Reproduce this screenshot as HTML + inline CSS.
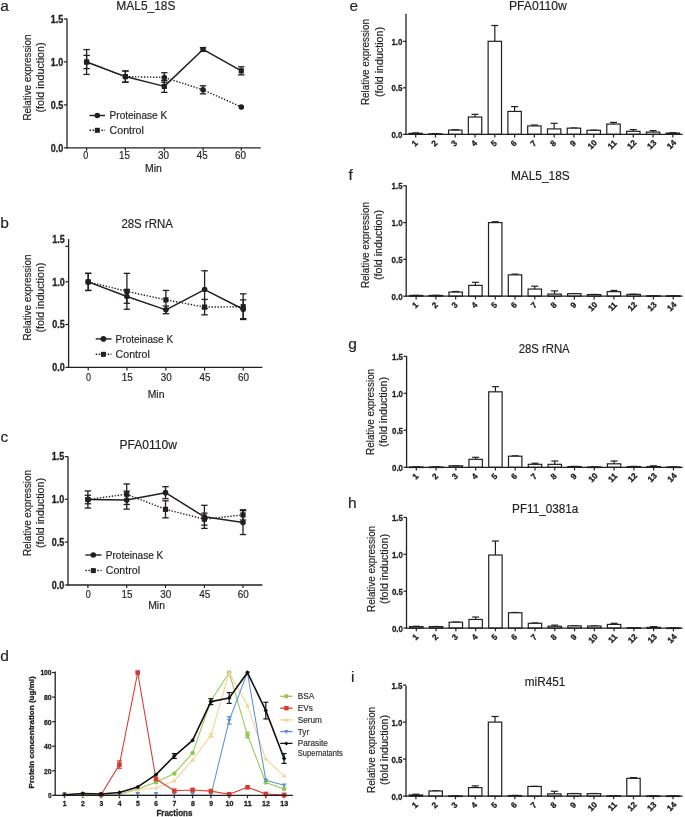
<!DOCTYPE html>
<html><head><meta charset="utf-8"><title>Figure</title>
<style>
html,body{margin:0;padding:0;background:#fff;}
body{width:685px;height:817px;overflow:hidden;}
svg{display:block;font-family:"Liberation Sans",sans-serif;will-change:transform;}
</style></head>
<body>
<svg width="685" height="817" viewBox="0 0 685 817" fill="#231f20">
<rect x="0" y="0" width="685" height="817" fill="#fff"/>
<text x="0.2" y="11" font-size="15.5" stroke="#231f20" stroke-width="0.18">a</text>
<text x="0.2" y="228" font-size="15.5" stroke="#231f20" stroke-width="0.18">b</text>
<text x="0.4" y="441.6" font-size="15.5" stroke="#231f20" stroke-width="0.18">c</text>
<text x="0.2" y="661.2" font-size="15.5" stroke="#231f20" stroke-width="0.18">d</text>
<text x="349.4" y="11" font-size="15.5" stroke="#231f20" stroke-width="0.18">e</text>
<text x="348.6" y="179.7" font-size="15.5" stroke="#231f20" stroke-width="0.18">f</text>
<text x="348.2" y="348.6" font-size="15.5" stroke="#231f20" stroke-width="0.18">g</text>
<text x="348" y="508.3" font-size="15.5" stroke="#231f20" stroke-width="0.18">h</text>
<text x="350.9" y="681.5" font-size="15.5" stroke="#231f20" stroke-width="0.18">i</text>
<text x="116.3" y="10.2" font-size="12.2" textLength="59.2" lengthAdjust="spacingAndGlyphs" stroke="#231f20" stroke-width="0.18">MAL5_18S</text>
<text x="31" y="77.5" font-size="10" text-anchor="middle" textLength="86" lengthAdjust="spacingAndGlyphs" transform="rotate(-90 31 77.5)" stroke="#231f20" stroke-width="0.18">Relative expression</text>
<text x="43.6" y="77.5" font-size="10.6" text-anchor="middle" textLength="70" lengthAdjust="spacingAndGlyphs" transform="rotate(-90 43.6 77.5)" stroke="#231f20" stroke-width="0.18">(fold induction)</text>
<line x1="67" y1="18.6" x2="67" y2="148.4" stroke="#231f20" stroke-width="1.3"/>
<line x1="66.4" y1="147.8" x2="260.8" y2="147.8" stroke="#231f20" stroke-width="1.3"/>
<line x1="63.8" y1="19" x2="67" y2="19" stroke="#231f20" stroke-width="1.2"/>
<text x="63.2" y="22.8" font-size="10" font-weight="bold" text-anchor="end" textLength="12.5" lengthAdjust="spacingAndGlyphs" stroke="#231f20" stroke-width="0.32">1.5</text>
<line x1="63.8" y1="61.9" x2="67" y2="61.9" stroke="#231f20" stroke-width="1.2"/>
<text x="63.2" y="65.7" font-size="10" font-weight="bold" text-anchor="end" textLength="12.5" lengthAdjust="spacingAndGlyphs" stroke="#231f20" stroke-width="0.32">1.0</text>
<line x1="63.8" y1="104.9" x2="67" y2="104.9" stroke="#231f20" stroke-width="1.2"/>
<text x="63.2" y="108.7" font-size="10" font-weight="bold" text-anchor="end" textLength="12.5" lengthAdjust="spacingAndGlyphs" stroke="#231f20" stroke-width="0.32">0.5</text>
<line x1="63.8" y1="147.8" x2="67" y2="147.8" stroke="#231f20" stroke-width="1.2"/>
<text x="63.2" y="151.6" font-size="10" font-weight="bold" text-anchor="end" textLength="12.5" lengthAdjust="spacingAndGlyphs" stroke="#231f20" stroke-width="0.32">0.0</text>
<line x1="86.6" y1="147.8" x2="86.6" y2="150.8" stroke="#231f20" stroke-width="1.2"/>
<text x="85.8" y="159.4" font-size="10.2" text-anchor="middle" textLength="5" lengthAdjust="spacingAndGlyphs" stroke="#231f20" stroke-width="0.18">0</text>
<line x1="125.4" y1="147.8" x2="125.4" y2="150.8" stroke="#231f20" stroke-width="1.2"/>
<text x="124.6" y="159.4" font-size="10.2" text-anchor="middle" textLength="11" lengthAdjust="spacingAndGlyphs" stroke="#231f20" stroke-width="0.18">15</text>
<line x1="164.3" y1="147.8" x2="164.3" y2="150.8" stroke="#231f20" stroke-width="1.2"/>
<text x="163.5" y="159.4" font-size="10.2" text-anchor="middle" textLength="11" lengthAdjust="spacingAndGlyphs" stroke="#231f20" stroke-width="0.18">30</text>
<line x1="203" y1="147.8" x2="203" y2="150.8" stroke="#231f20" stroke-width="1.2"/>
<text x="202.2" y="159.4" font-size="10.2" text-anchor="middle" textLength="11" lengthAdjust="spacingAndGlyphs" stroke="#231f20" stroke-width="0.18">45</text>
<line x1="241.3" y1="147.8" x2="241.3" y2="150.8" stroke="#231f20" stroke-width="1.2"/>
<text x="240.5" y="159.4" font-size="10.2" text-anchor="middle" textLength="11" lengthAdjust="spacingAndGlyphs" stroke="#231f20" stroke-width="0.18">60</text>
<text x="145" y="172.2" font-size="10.2" textLength="16.8" lengthAdjust="spacingAndGlyphs" stroke="#231f20" stroke-width="0.18">Min</text>
<line x1="86.6" y1="55.39" x2="86.6" y2="68.61" stroke="#231f20" stroke-width="1.3"/>
<line x1="83.4" y1="55.39" x2="89.8" y2="55.39" stroke="#231f20" stroke-width="1.3"/>
<line x1="83.4" y1="68.61" x2="89.8" y2="68.61" stroke="#231f20" stroke-width="1.3"/>
<line x1="125.4" y1="71.01" x2="125.4" y2="82.16" stroke="#231f20" stroke-width="1.3"/>
<line x1="122.2" y1="71.01" x2="128.6" y2="71.01" stroke="#231f20" stroke-width="1.3"/>
<line x1="122.2" y1="82.16" x2="128.6" y2="82.16" stroke="#231f20" stroke-width="1.3"/>
<line x1="164.3" y1="72.73" x2="164.3" y2="82.16" stroke="#231f20" stroke-width="1.3"/>
<line x1="161.1" y1="72.73" x2="167.5" y2="72.73" stroke="#231f20" stroke-width="1.3"/>
<line x1="161.1" y1="82.16" x2="167.5" y2="82.16" stroke="#231f20" stroke-width="1.3"/>
<line x1="203" y1="85.77" x2="203" y2="93.83" stroke="#231f20" stroke-width="1.3"/>
<line x1="199.8" y1="85.77" x2="206.2" y2="85.77" stroke="#231f20" stroke-width="1.3"/>
<line x1="199.8" y1="93.83" x2="206.2" y2="93.83" stroke="#231f20" stroke-width="1.3"/>
<line x1="86.6" y1="49.56" x2="86.6" y2="74.44" stroke="#231f20" stroke-width="1.3"/>
<line x1="83.4" y1="49.56" x2="89.8" y2="49.56" stroke="#231f20" stroke-width="1.3"/>
<line x1="83.4" y1="74.44" x2="89.8" y2="74.44" stroke="#231f20" stroke-width="1.3"/>
<line x1="125.4" y1="71.01" x2="125.4" y2="82.16" stroke="#231f20" stroke-width="1.3"/>
<line x1="122.2" y1="71.01" x2="128.6" y2="71.01" stroke="#231f20" stroke-width="1.3"/>
<line x1="122.2" y1="82.16" x2="128.6" y2="82.16" stroke="#231f20" stroke-width="1.3"/>
<line x1="164.3" y1="80.36" x2="164.3" y2="92.37" stroke="#231f20" stroke-width="1.3"/>
<line x1="161.1" y1="80.36" x2="167.5" y2="80.36" stroke="#231f20" stroke-width="1.3"/>
<line x1="161.1" y1="92.37" x2="167.5" y2="92.37" stroke="#231f20" stroke-width="1.3"/>
<line x1="203" y1="47.76" x2="203" y2="51.19" stroke="#231f20" stroke-width="1.3"/>
<line x1="199.8" y1="47.76" x2="206.2" y2="47.76" stroke="#231f20" stroke-width="1.3"/>
<line x1="199.8" y1="51.19" x2="206.2" y2="51.19" stroke="#231f20" stroke-width="1.3"/>
<line x1="241.3" y1="66.8" x2="241.3" y2="74.87" stroke="#231f20" stroke-width="1.3"/>
<line x1="238.1" y1="66.8" x2="244.5" y2="66.8" stroke="#231f20" stroke-width="1.3"/>
<line x1="238.1" y1="74.87" x2="244.5" y2="74.87" stroke="#231f20" stroke-width="1.3"/>
<polyline points="86.6,62 125.4,76.59 164.3,77.44 203,89.8 241.3,106.96" fill="none" stroke="#231f20" stroke-width="1.4" stroke-linejoin="round" stroke-dasharray="1.4 1.6"/>
<polyline points="86.6,62 125.4,76.59 164.3,86.37 203,49.47 241.3,70.84" fill="none" stroke="#231f20" stroke-width="1.5" stroke-linejoin="round"/>
<circle cx="86.6" cy="62" r="2.8" fill="#231f20"/>
<circle cx="125.4" cy="76.59" r="2.8" fill="#231f20"/>
<circle cx="164.3" cy="77.44" r="2.8" fill="#231f20"/>
<circle cx="203" cy="89.8" r="2.8" fill="#231f20"/>
<circle cx="241.3" cy="106.96" r="2.8" fill="#231f20"/>
<rect x="84" y="59.4" width="5.2" height="5.2" fill="#231f20"/>
<rect x="122.8" y="73.99" width="5.2" height="5.2" fill="#231f20"/>
<rect x="161.7" y="83.77" width="5.2" height="5.2" fill="#231f20"/>
<rect x="200.4" y="46.87" width="5.2" height="5.2" fill="#231f20"/>
<rect x="238.7" y="68.24" width="5.2" height="5.2" fill="#231f20"/>
<line x1="89.5" y1="115.5" x2="105.1" y2="115.5" stroke="#231f20" stroke-width="1.4"/>
<circle cx="97.3" cy="115.5" r="2.8" fill="#231f20"/>
<line x1="89.5" y1="130.3" x2="105.1" y2="130.3" stroke="#231f20" stroke-width="1.5" stroke-dasharray="1.5 1.5"/>
<rect x="94.8" y="127.8" width="5" height="5" fill="#231f20"/>
<text x="109.6" y="119.1" font-size="10.2" textLength="57.5" lengthAdjust="spacingAndGlyphs" stroke="#231f20" stroke-width="0.18">Proteinase K</text>
<text x="109.6" y="133.9" font-size="10.6" textLength="34.2" lengthAdjust="spacingAndGlyphs" stroke="#231f20" stroke-width="0.18">Control</text>
<text x="121.4" y="228" font-size="12.2" textLength="51.4" lengthAdjust="spacingAndGlyphs" stroke="#231f20" stroke-width="0.18">28S rRNA</text>
<text x="31" y="297.6" font-size="10" text-anchor="middle" textLength="86" lengthAdjust="spacingAndGlyphs" transform="rotate(-90 31 297.6)" stroke="#231f20" stroke-width="0.18">Relative expression</text>
<text x="43.9" y="297.6" font-size="10.6" text-anchor="middle" textLength="70" lengthAdjust="spacingAndGlyphs" transform="rotate(-90 43.9 297.6)" stroke="#231f20" stroke-width="0.18">(fold induction)</text>
<line x1="68.6" y1="239" x2="68.6" y2="368" stroke="#231f20" stroke-width="1.3"/>
<line x1="68" y1="367.4" x2="262.4" y2="367.4" stroke="#231f20" stroke-width="1.3"/>
<line x1="65.4" y1="246.4" x2="68.6" y2="246.4" stroke="#231f20" stroke-width="1.2"/>
<text x="64.8" y="242.7" font-size="10" font-weight="bold" text-anchor="end" textLength="12.5" lengthAdjust="spacingAndGlyphs" stroke="#231f20" stroke-width="0.32">1.5</text>
<line x1="65.4" y1="281.8" x2="68.6" y2="281.8" stroke="#231f20" stroke-width="1.2"/>
<text x="64.8" y="285.6" font-size="10" font-weight="bold" text-anchor="end" textLength="12.5" lengthAdjust="spacingAndGlyphs" stroke="#231f20" stroke-width="0.32">1.0</text>
<line x1="65.4" y1="324.5" x2="68.6" y2="324.5" stroke="#231f20" stroke-width="1.2"/>
<text x="64.8" y="328.3" font-size="10" font-weight="bold" text-anchor="end" textLength="12.5" lengthAdjust="spacingAndGlyphs" stroke="#231f20" stroke-width="0.32">0.5</text>
<line x1="65.4" y1="367.4" x2="68.6" y2="367.4" stroke="#231f20" stroke-width="1.2"/>
<text x="64.8" y="371.2" font-size="10" font-weight="bold" text-anchor="end" textLength="12.5" lengthAdjust="spacingAndGlyphs" stroke="#231f20" stroke-width="0.32">0.0</text>
<line x1="88.2" y1="367.4" x2="88.2" y2="370.4" stroke="#231f20" stroke-width="1.2"/>
<text x="88.5" y="381.3" font-size="10.2" text-anchor="middle" textLength="5" lengthAdjust="spacingAndGlyphs" stroke="#231f20" stroke-width="0.18">0</text>
<line x1="126.9" y1="367.4" x2="126.9" y2="370.4" stroke="#231f20" stroke-width="1.2"/>
<text x="127.2" y="381.3" font-size="10.2" text-anchor="middle" textLength="11" lengthAdjust="spacingAndGlyphs" stroke="#231f20" stroke-width="0.18">15</text>
<line x1="165.9" y1="367.4" x2="165.9" y2="370.4" stroke="#231f20" stroke-width="1.2"/>
<text x="166.2" y="381.3" font-size="10.2" text-anchor="middle" textLength="11" lengthAdjust="spacingAndGlyphs" stroke="#231f20" stroke-width="0.18">30</text>
<line x1="204.6" y1="367.4" x2="204.6" y2="370.4" stroke="#231f20" stroke-width="1.2"/>
<text x="204.9" y="381.3" font-size="10.2" text-anchor="middle" textLength="11" lengthAdjust="spacingAndGlyphs" stroke="#231f20" stroke-width="0.18">45</text>
<line x1="243.2" y1="367.4" x2="243.2" y2="370.4" stroke="#231f20" stroke-width="1.2"/>
<text x="243.5" y="381.3" font-size="10.2" text-anchor="middle" textLength="11" lengthAdjust="spacingAndGlyphs" stroke="#231f20" stroke-width="0.18">60</text>
<text x="147.7" y="397.6" font-size="10.2" textLength="16.8" lengthAdjust="spacingAndGlyphs" stroke="#231f20" stroke-width="0.18">Min</text>
<line x1="88.2" y1="273.35" x2="88.2" y2="290.45" stroke="#231f20" stroke-width="1.3"/>
<line x1="85" y1="273.35" x2="91.4" y2="273.35" stroke="#231f20" stroke-width="1.3"/>
<line x1="85" y1="290.45" x2="91.4" y2="290.45" stroke="#231f20" stroke-width="1.3"/>
<line x1="126.9" y1="273.35" x2="126.9" y2="309.26" stroke="#231f20" stroke-width="1.3"/>
<line x1="123.7" y1="273.35" x2="130.1" y2="273.35" stroke="#231f20" stroke-width="1.3"/>
<line x1="123.7" y1="309.26" x2="130.1" y2="309.26" stroke="#231f20" stroke-width="1.3"/>
<line x1="165.9" y1="290.45" x2="165.9" y2="309.26" stroke="#231f20" stroke-width="1.3"/>
<line x1="162.7" y1="290.45" x2="169.1" y2="290.45" stroke="#231f20" stroke-width="1.3"/>
<line x1="162.7" y1="309.26" x2="169.1" y2="309.26" stroke="#231f20" stroke-width="1.3"/>
<line x1="204.6" y1="299.43" x2="204.6" y2="314.82" stroke="#231f20" stroke-width="1.3"/>
<line x1="201.4" y1="299.43" x2="207.8" y2="299.43" stroke="#231f20" stroke-width="1.3"/>
<line x1="201.4" y1="314.82" x2="207.8" y2="314.82" stroke="#231f20" stroke-width="1.3"/>
<line x1="243.2" y1="293.87" x2="243.2" y2="319.52" stroke="#231f20" stroke-width="1.3"/>
<line x1="240" y1="293.87" x2="246.4" y2="293.87" stroke="#231f20" stroke-width="1.3"/>
<line x1="240" y1="319.52" x2="246.4" y2="319.52" stroke="#231f20" stroke-width="1.3"/>
<line x1="88.2" y1="273.35" x2="88.2" y2="290.45" stroke="#231f20" stroke-width="1.3"/>
<line x1="85" y1="273.35" x2="91.4" y2="273.35" stroke="#231f20" stroke-width="1.3"/>
<line x1="85" y1="290.45" x2="91.4" y2="290.45" stroke="#231f20" stroke-width="1.3"/>
<line x1="126.9" y1="289.59" x2="126.9" y2="303.27" stroke="#231f20" stroke-width="1.3"/>
<line x1="123.7" y1="289.59" x2="130.1" y2="289.59" stroke="#231f20" stroke-width="1.3"/>
<line x1="123.7" y1="303.27" x2="130.1" y2="303.27" stroke="#231f20" stroke-width="1.3"/>
<line x1="165.9" y1="306.01" x2="165.9" y2="313.71" stroke="#231f20" stroke-width="1.3"/>
<line x1="162.7" y1="306.01" x2="169.1" y2="306.01" stroke="#231f20" stroke-width="1.3"/>
<line x1="162.7" y1="313.71" x2="169.1" y2="313.71" stroke="#231f20" stroke-width="1.3"/>
<line x1="204.6" y1="270.78" x2="204.6" y2="308.4" stroke="#231f20" stroke-width="1.3"/>
<line x1="201.4" y1="270.78" x2="207.8" y2="270.78" stroke="#231f20" stroke-width="1.3"/>
<line x1="201.4" y1="308.4" x2="207.8" y2="308.4" stroke="#231f20" stroke-width="1.3"/>
<line x1="243.2" y1="299.85" x2="243.2" y2="318.66" stroke="#231f20" stroke-width="1.3"/>
<line x1="240" y1="299.85" x2="246.4" y2="299.85" stroke="#231f20" stroke-width="1.3"/>
<line x1="240" y1="318.66" x2="246.4" y2="318.66" stroke="#231f20" stroke-width="1.3"/>
<polyline points="88.2,281.9 126.9,291.3 165.9,299.85 204.6,307.12 243.2,306.69" fill="none" stroke="#231f20" stroke-width="1.4" stroke-linejoin="round" stroke-dasharray="1.4 1.6"/>
<polyline points="88.2,281.9 126.9,296.43 165.9,309.86 204.6,289.59 243.2,309.26" fill="none" stroke="#231f20" stroke-width="1.5" stroke-linejoin="round"/>
<rect x="85.6" y="279.3" width="5.2" height="5.2" fill="#231f20"/>
<rect x="124.3" y="288.7" width="5.2" height="5.2" fill="#231f20"/>
<rect x="163.3" y="297.25" width="5.2" height="5.2" fill="#231f20"/>
<rect x="202" y="304.52" width="5.2" height="5.2" fill="#231f20"/>
<rect x="240.6" y="304.09" width="5.2" height="5.2" fill="#231f20"/>
<circle cx="88.2" cy="281.9" r="2.8" fill="#231f20"/>
<circle cx="126.9" cy="296.43" r="2.8" fill="#231f20"/>
<circle cx="165.9" cy="309.86" r="2.8" fill="#231f20"/>
<circle cx="204.6" cy="289.59" r="2.8" fill="#231f20"/>
<circle cx="243.2" cy="309.26" r="2.8" fill="#231f20"/>
<line x1="95.7" y1="338.9" x2="111.5" y2="338.9" stroke="#231f20" stroke-width="1.4"/>
<circle cx="103.4" cy="338.9" r="2.8" fill="#231f20"/>
<line x1="95.7" y1="354.3" x2="111.5" y2="354.3" stroke="#231f20" stroke-width="1.5" stroke-dasharray="1.5 1.5"/>
<rect x="100.9" y="351.8" width="5" height="5" fill="#231f20"/>
<text x="115.6" y="342.5" font-size="10.2" textLength="57.5" lengthAdjust="spacingAndGlyphs" stroke="#231f20" stroke-width="0.18">Proteinase K</text>
<text x="115.6" y="357.9" font-size="10.6" textLength="34.2" lengthAdjust="spacingAndGlyphs" stroke="#231f20" stroke-width="0.18">Control</text>
<text x="119.5" y="448.7" font-size="12.2" textLength="57.5" lengthAdjust="spacingAndGlyphs" stroke="#231f20" stroke-width="0.18">PFA0110w</text>
<text x="31.2" y="513" font-size="10" text-anchor="middle" textLength="86" lengthAdjust="spacingAndGlyphs" transform="rotate(-90 31.2 513)" stroke="#231f20" stroke-width="0.18">Relative expression</text>
<text x="44" y="513" font-size="10.6" text-anchor="middle" textLength="70" lengthAdjust="spacingAndGlyphs" transform="rotate(-90 44 513)" stroke="#231f20" stroke-width="0.18">(fold induction)</text>
<line x1="68" y1="456.4" x2="68" y2="585.6" stroke="#231f20" stroke-width="1.3"/>
<line x1="67.4" y1="585" x2="262.4" y2="585" stroke="#231f20" stroke-width="1.3"/>
<line x1="64.8" y1="456.6" x2="68" y2="456.6" stroke="#231f20" stroke-width="1.2"/>
<text x="64.2" y="460.4" font-size="10" font-weight="bold" text-anchor="end" textLength="12.5" lengthAdjust="spacingAndGlyphs" stroke="#231f20" stroke-width="0.32">1.5</text>
<line x1="64.8" y1="499.3" x2="68" y2="499.3" stroke="#231f20" stroke-width="1.2"/>
<text x="64.2" y="503.1" font-size="10" font-weight="bold" text-anchor="end" textLength="12.5" lengthAdjust="spacingAndGlyphs" stroke="#231f20" stroke-width="0.32">1.0</text>
<line x1="64.8" y1="542.1" x2="68" y2="542.1" stroke="#231f20" stroke-width="1.2"/>
<text x="64.2" y="545.9" font-size="10" font-weight="bold" text-anchor="end" textLength="12.5" lengthAdjust="spacingAndGlyphs" stroke="#231f20" stroke-width="0.32">0.5</text>
<line x1="64.8" y1="585" x2="68" y2="585" stroke="#231f20" stroke-width="1.2"/>
<text x="64.2" y="588.8" font-size="10" font-weight="bold" text-anchor="end" textLength="12.5" lengthAdjust="spacingAndGlyphs" stroke="#231f20" stroke-width="0.32">0.0</text>
<line x1="87.9" y1="585" x2="87.9" y2="588" stroke="#231f20" stroke-width="1.2"/>
<text x="88.2" y="598.3" font-size="10.2" text-anchor="middle" textLength="5" lengthAdjust="spacingAndGlyphs" stroke="#231f20" stroke-width="0.18">0</text>
<line x1="126.7" y1="585" x2="126.7" y2="588" stroke="#231f20" stroke-width="1.2"/>
<text x="127" y="598.3" font-size="10.2" text-anchor="middle" textLength="11" lengthAdjust="spacingAndGlyphs" stroke="#231f20" stroke-width="0.18">15</text>
<line x1="165.5" y1="585" x2="165.5" y2="588" stroke="#231f20" stroke-width="1.2"/>
<text x="165.8" y="598.3" font-size="10.2" text-anchor="middle" textLength="11" lengthAdjust="spacingAndGlyphs" stroke="#231f20" stroke-width="0.18">30</text>
<line x1="204.4" y1="585" x2="204.4" y2="588" stroke="#231f20" stroke-width="1.2"/>
<text x="204.7" y="598.3" font-size="10.2" text-anchor="middle" textLength="11" lengthAdjust="spacingAndGlyphs" stroke="#231f20" stroke-width="0.18">45</text>
<line x1="243" y1="585" x2="243" y2="588" stroke="#231f20" stroke-width="1.2"/>
<text x="243.3" y="598.3" font-size="10.2" text-anchor="middle" textLength="11" lengthAdjust="spacingAndGlyphs" stroke="#231f20" stroke-width="0.18">60</text>
<text x="148.2" y="608.5" font-size="10.2" textLength="16.8" lengthAdjust="spacingAndGlyphs" stroke="#231f20" stroke-width="0.18">Min</text>
<line x1="87.9" y1="495.23" x2="87.9" y2="503.77" stroke="#231f20" stroke-width="1.3"/>
<line x1="84.7" y1="495.23" x2="91.1" y2="495.23" stroke="#231f20" stroke-width="1.3"/>
<line x1="84.7" y1="503.77" x2="91.1" y2="503.77" stroke="#231f20" stroke-width="1.3"/>
<line x1="126.7" y1="483.94" x2="126.7" y2="504.46" stroke="#231f20" stroke-width="1.3"/>
<line x1="123.5" y1="483.94" x2="129.9" y2="483.94" stroke="#231f20" stroke-width="1.3"/>
<line x1="123.5" y1="504.46" x2="129.9" y2="504.46" stroke="#231f20" stroke-width="1.3"/>
<line x1="165.5" y1="500.78" x2="165.5" y2="517.88" stroke="#231f20" stroke-width="1.3"/>
<line x1="162.3" y1="500.78" x2="168.7" y2="500.78" stroke="#231f20" stroke-width="1.3"/>
<line x1="162.3" y1="517.88" x2="168.7" y2="517.88" stroke="#231f20" stroke-width="1.3"/>
<line x1="204.4" y1="513.18" x2="204.4" y2="525.15" stroke="#231f20" stroke-width="1.3"/>
<line x1="201.2" y1="513.18" x2="207.6" y2="513.18" stroke="#231f20" stroke-width="1.3"/>
<line x1="201.2" y1="525.15" x2="207.6" y2="525.15" stroke="#231f20" stroke-width="1.3"/>
<line x1="243" y1="509.76" x2="243" y2="520.02" stroke="#231f20" stroke-width="1.3"/>
<line x1="239.8" y1="509.76" x2="246.2" y2="509.76" stroke="#231f20" stroke-width="1.3"/>
<line x1="239.8" y1="520.02" x2="246.2" y2="520.02" stroke="#231f20" stroke-width="1.3"/>
<line x1="87.9" y1="490.95" x2="87.9" y2="508.05" stroke="#231f20" stroke-width="1.3"/>
<line x1="84.7" y1="490.95" x2="91.1" y2="490.95" stroke="#231f20" stroke-width="1.3"/>
<line x1="84.7" y1="508.05" x2="91.1" y2="508.05" stroke="#231f20" stroke-width="1.3"/>
<line x1="126.7" y1="491.12" x2="126.7" y2="509.08" stroke="#231f20" stroke-width="1.3"/>
<line x1="123.5" y1="491.12" x2="129.9" y2="491.12" stroke="#231f20" stroke-width="1.3"/>
<line x1="123.5" y1="509.08" x2="129.9" y2="509.08" stroke="#231f20" stroke-width="1.3"/>
<line x1="165.5" y1="486.67" x2="165.5" y2="498.64" stroke="#231f20" stroke-width="1.3"/>
<line x1="162.3" y1="486.67" x2="168.7" y2="486.67" stroke="#231f20" stroke-width="1.3"/>
<line x1="162.3" y1="498.64" x2="168.7" y2="498.64" stroke="#231f20" stroke-width="1.3"/>
<line x1="204.4" y1="505.31" x2="204.4" y2="528.4" stroke="#231f20" stroke-width="1.3"/>
<line x1="201.2" y1="505.31" x2="207.6" y2="505.31" stroke="#231f20" stroke-width="1.3"/>
<line x1="201.2" y1="528.4" x2="207.6" y2="528.4" stroke="#231f20" stroke-width="1.3"/>
<line x1="243" y1="510.62" x2="243" y2="534.55" stroke="#231f20" stroke-width="1.3"/>
<line x1="239.8" y1="510.62" x2="246.2" y2="510.62" stroke="#231f20" stroke-width="1.3"/>
<line x1="239.8" y1="534.55" x2="246.2" y2="534.55" stroke="#231f20" stroke-width="1.3"/>
<polyline points="87.9,499.5 126.7,494.2 165.5,509.33 204.4,519.16 243,514.89" fill="none" stroke="#231f20" stroke-width="1.4" stroke-linejoin="round" stroke-dasharray="1.4 1.6"/>
<polyline points="87.9,499.5 126.7,500.1 165.5,492.66 204.4,516.86 243,522.59" fill="none" stroke="#231f20" stroke-width="1.5" stroke-linejoin="round"/>
<rect x="85.3" y="496.9" width="5.2" height="5.2" fill="#231f20"/>
<rect x="124.1" y="491.6" width="5.2" height="5.2" fill="#231f20"/>
<rect x="162.9" y="506.73" width="5.2" height="5.2" fill="#231f20"/>
<rect x="201.8" y="516.56" width="5.2" height="5.2" fill="#231f20"/>
<rect x="240.4" y="512.29" width="5.2" height="5.2" fill="#231f20"/>
<circle cx="87.9" cy="499.5" r="2.8" fill="#231f20"/>
<circle cx="126.7" cy="500.1" r="2.8" fill="#231f20"/>
<circle cx="165.5" cy="492.66" r="2.8" fill="#231f20"/>
<circle cx="204.4" cy="516.86" r="2.8" fill="#231f20"/>
<circle cx="243" cy="522.59" r="2.8" fill="#231f20"/>
<line x1="85.4" y1="555" x2="101.5" y2="555" stroke="#231f20" stroke-width="1.4"/>
<circle cx="93.3" cy="555" r="2.8" fill="#231f20"/>
<line x1="85.4" y1="570.6" x2="101.5" y2="570.6" stroke="#231f20" stroke-width="1.5" stroke-dasharray="1.5 1.5"/>
<rect x="90.8" y="568.1" width="5" height="5" fill="#231f20"/>
<text x="105.8" y="558.6" font-size="10.2" textLength="57.5" lengthAdjust="spacingAndGlyphs" stroke="#231f20" stroke-width="0.18">Proteinase K</text>
<text x="105.8" y="574.2" font-size="10.6" textLength="34.2" lengthAdjust="spacingAndGlyphs" stroke="#231f20" stroke-width="0.18">Control</text>
<text x="508.9" y="9.7" font-size="12.2" textLength="58" lengthAdjust="spacingAndGlyphs" stroke="#231f20" stroke-width="0.18">PFA0110w</text>
<text x="369.2" y="62" font-size="10" text-anchor="middle" textLength="86" lengthAdjust="spacingAndGlyphs" transform="rotate(-90 369.2 62)" stroke="#231f20" stroke-width="0.18">Relative expression</text>
<text x="382.8" y="62" font-size="10.6" text-anchor="middle" textLength="70" lengthAdjust="spacingAndGlyphs" transform="rotate(-90 382.8 62)" stroke="#231f20" stroke-width="0.18">(fold induction)</text>
<line x1="415.7" y1="132.91" x2="415.7" y2="133.37" stroke="#231f20" stroke-width="1.2"/>
<line x1="412.2" y1="132.91" x2="419.2" y2="132.91" stroke="#231f20" stroke-width="1.2"/>
<rect x="409" y="133.37" width="13.4" height="0.93" fill="#fff" stroke="#231f20" stroke-width="1.2"/>
<line x1="435.48" y1="133.56" x2="435.48" y2="133.84" stroke="#231f20" stroke-width="1.2"/>
<line x1="431.98" y1="133.56" x2="438.98" y2="133.56" stroke="#231f20" stroke-width="1.2"/>
<rect x="428.78" y="133.84" width="13.4" height="0.6" fill="#fff" stroke="#231f20" stroke-width="1.2"/>
<line x1="455.26" y1="129.65" x2="455.26" y2="130.12" stroke="#231f20" stroke-width="1.2"/>
<line x1="451.76" y1="129.65" x2="458.76" y2="129.65" stroke="#231f20" stroke-width="1.2"/>
<rect x="448.56" y="130.12" width="13.4" height="4.19" fill="#fff" stroke="#231f20" stroke-width="1.2"/>
<line x1="475.04" y1="114.31" x2="475.04" y2="117" stroke="#231f20" stroke-width="1.2"/>
<line x1="471.54" y1="114.31" x2="478.54" y2="114.31" stroke="#231f20" stroke-width="1.2"/>
<rect x="468.34" y="117" width="13.4" height="17.3" fill="#fff" stroke="#231f20" stroke-width="1.2"/>
<line x1="494.82" y1="25.49" x2="494.82" y2="41.3" stroke="#231f20" stroke-width="1.2"/>
<line x1="491.32" y1="25.49" x2="498.32" y2="25.49" stroke="#231f20" stroke-width="1.2"/>
<rect x="488.12" y="41.3" width="13.4" height="93" fill="#fff" stroke="#231f20" stroke-width="1.2"/>
<line x1="514.6" y1="106.59" x2="514.6" y2="111.42" stroke="#231f20" stroke-width="1.2"/>
<line x1="511.1" y1="106.59" x2="518.1" y2="106.59" stroke="#231f20" stroke-width="1.2"/>
<rect x="507.9" y="111.42" width="13.4" height="22.88" fill="#fff" stroke="#231f20" stroke-width="1.2"/>
<line x1="534.38" y1="125" x2="534.38" y2="125.93" stroke="#231f20" stroke-width="1.2"/>
<line x1="530.88" y1="125" x2="537.88" y2="125" stroke="#231f20" stroke-width="1.2"/>
<rect x="527.68" y="125.93" width="13.4" height="8.37" fill="#fff" stroke="#231f20" stroke-width="1.2"/>
<line x1="554.16" y1="123.33" x2="554.16" y2="128.91" stroke="#231f20" stroke-width="1.2"/>
<line x1="550.66" y1="123.33" x2="557.66" y2="123.33" stroke="#231f20" stroke-width="1.2"/>
<rect x="547.46" y="128.91" width="13.4" height="5.39" fill="#fff" stroke="#231f20" stroke-width="1.2"/>
<line x1="573.94" y1="127.98" x2="573.94" y2="128.16" stroke="#231f20" stroke-width="1.2"/>
<line x1="570.44" y1="127.98" x2="577.44" y2="127.98" stroke="#231f20" stroke-width="1.2"/>
<rect x="567.24" y="128.16" width="13.4" height="6.14" fill="#fff" stroke="#231f20" stroke-width="1.2"/>
<line x1="593.72" y1="130.12" x2="593.72" y2="130.3" stroke="#231f20" stroke-width="1.2"/>
<line x1="590.22" y1="130.12" x2="597.22" y2="130.12" stroke="#231f20" stroke-width="1.2"/>
<rect x="587.02" y="130.3" width="13.4" height="4" fill="#fff" stroke="#231f20" stroke-width="1.2"/>
<line x1="613.5" y1="122.4" x2="613.5" y2="124.07" stroke="#231f20" stroke-width="1.2"/>
<line x1="610" y1="122.4" x2="617" y2="122.4" stroke="#231f20" stroke-width="1.2"/>
<rect x="606.8" y="124.07" width="13.4" height="10.23" fill="#fff" stroke="#231f20" stroke-width="1.2"/>
<line x1="633.28" y1="129.56" x2="633.28" y2="131.32" stroke="#231f20" stroke-width="1.2"/>
<line x1="629.78" y1="129.56" x2="636.78" y2="129.56" stroke="#231f20" stroke-width="1.2"/>
<rect x="626.58" y="131.32" width="13.4" height="2.98" fill="#fff" stroke="#231f20" stroke-width="1.2"/>
<line x1="653.06" y1="130.58" x2="653.06" y2="132.07" stroke="#231f20" stroke-width="1.2"/>
<line x1="649.56" y1="130.58" x2="656.56" y2="130.58" stroke="#231f20" stroke-width="1.2"/>
<rect x="646.36" y="132.07" width="13.4" height="2.23" fill="#fff" stroke="#231f20" stroke-width="1.2"/>
<line x1="672.84" y1="132.72" x2="672.84" y2="133.09" stroke="#231f20" stroke-width="1.2"/>
<line x1="669.34" y1="132.72" x2="676.34" y2="132.72" stroke="#231f20" stroke-width="1.2"/>
<rect x="666.14" y="133.09" width="13.4" height="1.21" fill="#fff" stroke="#231f20" stroke-width="1.2"/>
<line x1="406" y1="13.7" x2="406" y2="134.9" stroke="#231f20" stroke-width="1.3"/>
<line x1="405.4" y1="134.3" x2="682.6" y2="134.3" stroke="#231f20" stroke-width="1.3"/>
<line x1="403" y1="134.3" x2="406" y2="134.3" stroke="#231f20" stroke-width="1.2"/>
<text x="402.4" y="137.8" font-size="9.3" font-weight="bold" text-anchor="end" textLength="11" lengthAdjust="spacingAndGlyphs" stroke="#231f20" stroke-width="0.32">0.0</text>
<line x1="403" y1="87.8" x2="406" y2="87.8" stroke="#231f20" stroke-width="1.2"/>
<text x="402.4" y="91.3" font-size="9.3" font-weight="bold" text-anchor="end" textLength="11" lengthAdjust="spacingAndGlyphs" stroke="#231f20" stroke-width="0.32">0.5</text>
<line x1="403" y1="41.3" x2="406" y2="41.3" stroke="#231f20" stroke-width="1.2"/>
<text x="402.4" y="44.8" font-size="9.3" font-weight="bold" text-anchor="end" textLength="11" lengthAdjust="spacingAndGlyphs" stroke="#231f20" stroke-width="0.32">1.0</text>
<line x1="415.7" y1="134.3" x2="415.7" y2="137.5" stroke="#231f20" stroke-width="1.2"/>
<text x="416.7" y="145.3" font-size="8.3" font-weight="bold" text-anchor="middle" transform="rotate(-45 416.7 145.3)" stroke="#231f20" stroke-width="0.32">1</text>
<line x1="435.48" y1="134.3" x2="435.48" y2="137.5" stroke="#231f20" stroke-width="1.2"/>
<text x="436.48" y="145.3" font-size="8.3" font-weight="bold" text-anchor="middle" transform="rotate(-45 436.48 145.3)" stroke="#231f20" stroke-width="0.32">2</text>
<line x1="455.26" y1="134.3" x2="455.26" y2="137.5" stroke="#231f20" stroke-width="1.2"/>
<text x="456.26" y="145.3" font-size="8.3" font-weight="bold" text-anchor="middle" transform="rotate(-45 456.26 145.3)" stroke="#231f20" stroke-width="0.32">3</text>
<line x1="475.04" y1="134.3" x2="475.04" y2="137.5" stroke="#231f20" stroke-width="1.2"/>
<text x="476.04" y="145.3" font-size="8.3" font-weight="bold" text-anchor="middle" transform="rotate(-45 476.04 145.3)" stroke="#231f20" stroke-width="0.32">4</text>
<line x1="494.82" y1="134.3" x2="494.82" y2="137.5" stroke="#231f20" stroke-width="1.2"/>
<text x="495.82" y="145.3" font-size="8.3" font-weight="bold" text-anchor="middle" transform="rotate(-45 495.82 145.3)" stroke="#231f20" stroke-width="0.32">5</text>
<line x1="514.6" y1="134.3" x2="514.6" y2="137.5" stroke="#231f20" stroke-width="1.2"/>
<text x="515.6" y="145.3" font-size="8.3" font-weight="bold" text-anchor="middle" transform="rotate(-45 515.6 145.3)" stroke="#231f20" stroke-width="0.32">6</text>
<line x1="534.38" y1="134.3" x2="534.38" y2="137.5" stroke="#231f20" stroke-width="1.2"/>
<text x="535.38" y="145.3" font-size="8.3" font-weight="bold" text-anchor="middle" transform="rotate(-45 535.38 145.3)" stroke="#231f20" stroke-width="0.32">7</text>
<line x1="554.16" y1="134.3" x2="554.16" y2="137.5" stroke="#231f20" stroke-width="1.2"/>
<text x="555.16" y="145.3" font-size="8.3" font-weight="bold" text-anchor="middle" transform="rotate(-45 555.16 145.3)" stroke="#231f20" stroke-width="0.32">8</text>
<line x1="573.94" y1="134.3" x2="573.94" y2="137.5" stroke="#231f20" stroke-width="1.2"/>
<text x="574.94" y="145.3" font-size="8.3" font-weight="bold" text-anchor="middle" transform="rotate(-45 574.94 145.3)" stroke="#231f20" stroke-width="0.32">9</text>
<line x1="593.72" y1="134.3" x2="593.72" y2="137.5" stroke="#231f20" stroke-width="1.2"/>
<text x="594.32" y="146.6" font-size="8.3" font-weight="bold" text-anchor="middle" transform="rotate(-45 594.32 146.6)" stroke="#231f20" stroke-width="0.32">10</text>
<line x1="613.5" y1="134.3" x2="613.5" y2="137.5" stroke="#231f20" stroke-width="1.2"/>
<text x="614.1" y="146.6" font-size="8.3" font-weight="bold" text-anchor="middle" transform="rotate(-45 614.1 146.6)" stroke="#231f20" stroke-width="0.32">11</text>
<line x1="633.28" y1="134.3" x2="633.28" y2="137.5" stroke="#231f20" stroke-width="1.2"/>
<text x="633.88" y="146.6" font-size="8.3" font-weight="bold" text-anchor="middle" transform="rotate(-45 633.88 146.6)" stroke="#231f20" stroke-width="0.32">12</text>
<line x1="653.06" y1="134.3" x2="653.06" y2="137.5" stroke="#231f20" stroke-width="1.2"/>
<text x="653.66" y="146.6" font-size="8.3" font-weight="bold" text-anchor="middle" transform="rotate(-45 653.66 146.6)" stroke="#231f20" stroke-width="0.32">13</text>
<line x1="672.84" y1="134.3" x2="672.84" y2="137.5" stroke="#231f20" stroke-width="1.2"/>
<text x="673.44" y="146.6" font-size="8.3" font-weight="bold" text-anchor="middle" transform="rotate(-45 673.44 146.6)" stroke="#231f20" stroke-width="0.32">14</text>
<text x="510.9" y="179.8" font-size="12.2" textLength="58.8" lengthAdjust="spacingAndGlyphs" stroke="#231f20" stroke-width="0.18">MAL5_18S</text>
<text x="368.8" y="245" font-size="10" text-anchor="middle" textLength="86" lengthAdjust="spacingAndGlyphs" transform="rotate(-90 368.8 245)" stroke="#231f20" stroke-width="0.18">Relative expression</text>
<text x="382.3" y="245" font-size="10.6" text-anchor="middle" textLength="70" lengthAdjust="spacingAndGlyphs" transform="rotate(-90 382.3 245)" stroke="#231f20" stroke-width="0.18">(fold induction)</text>
<line x1="416.1" y1="295.32" x2="416.1" y2="295.46" stroke="#231f20" stroke-width="1.2"/>
<line x1="412.6" y1="295.32" x2="419.6" y2="295.32" stroke="#231f20" stroke-width="1.2"/>
<rect x="409.4" y="295.46" width="13.4" height="0.74" fill="#fff" stroke="#231f20" stroke-width="1.2"/>
<line x1="435.88" y1="295.32" x2="435.88" y2="295.46" stroke="#231f20" stroke-width="1.2"/>
<line x1="432.38" y1="295.32" x2="439.38" y2="295.32" stroke="#231f20" stroke-width="1.2"/>
<rect x="429.18" y="295.46" width="13.4" height="0.74" fill="#fff" stroke="#231f20" stroke-width="1.2"/>
<line x1="455.66" y1="291.49" x2="455.66" y2="292.08" stroke="#231f20" stroke-width="1.2"/>
<line x1="452.16" y1="291.49" x2="459.16" y2="291.49" stroke="#231f20" stroke-width="1.2"/>
<rect x="448.96" y="292.08" width="13.4" height="4.12" fill="#fff" stroke="#231f20" stroke-width="1.2"/>
<line x1="475.44" y1="282.29" x2="475.44" y2="285.38" stroke="#231f20" stroke-width="1.2"/>
<line x1="471.94" y1="282.29" x2="478.94" y2="282.29" stroke="#231f20" stroke-width="1.2"/>
<rect x="468.74" y="285.38" width="13.4" height="10.82" fill="#fff" stroke="#231f20" stroke-width="1.2"/>
<line x1="495.22" y1="221.72" x2="495.22" y2="222.6" stroke="#231f20" stroke-width="1.2"/>
<line x1="491.72" y1="221.72" x2="498.72" y2="221.72" stroke="#231f20" stroke-width="1.2"/>
<rect x="488.52" y="222.6" width="13.4" height="73.6" fill="#fff" stroke="#231f20" stroke-width="1.2"/>
<line x1="515" y1="274.12" x2="515" y2="274.86" stroke="#231f20" stroke-width="1.2"/>
<line x1="511.5" y1="274.12" x2="518.5" y2="274.12" stroke="#231f20" stroke-width="1.2"/>
<rect x="508.3" y="274.86" width="13.4" height="21.34" fill="#fff" stroke="#231f20" stroke-width="1.2"/>
<line x1="534.78" y1="286.19" x2="534.78" y2="289.06" stroke="#231f20" stroke-width="1.2"/>
<line x1="531.28" y1="286.19" x2="538.28" y2="286.19" stroke="#231f20" stroke-width="1.2"/>
<rect x="528.08" y="289.06" width="13.4" height="7.14" fill="#fff" stroke="#231f20" stroke-width="1.2"/>
<line x1="554.56" y1="290.9" x2="554.56" y2="294.07" stroke="#231f20" stroke-width="1.2"/>
<line x1="551.06" y1="290.9" x2="558.06" y2="290.9" stroke="#231f20" stroke-width="1.2"/>
<rect x="547.86" y="294.07" width="13.4" height="2.13" fill="#fff" stroke="#231f20" stroke-width="1.2"/>
<line x1="574.34" y1="293.55" x2="574.34" y2="293.7" stroke="#231f20" stroke-width="1.2"/>
<line x1="570.84" y1="293.55" x2="577.84" y2="293.55" stroke="#231f20" stroke-width="1.2"/>
<rect x="567.64" y="293.7" width="13.4" height="2.5" fill="#fff" stroke="#231f20" stroke-width="1.2"/>
<line x1="594.12" y1="294.43" x2="594.12" y2="294.58" stroke="#231f20" stroke-width="1.2"/>
<line x1="590.62" y1="294.43" x2="597.62" y2="294.43" stroke="#231f20" stroke-width="1.2"/>
<rect x="587.42" y="294.58" width="13.4" height="1.62" fill="#fff" stroke="#231f20" stroke-width="1.2"/>
<line x1="613.9" y1="290.46" x2="613.9" y2="291.64" stroke="#231f20" stroke-width="1.2"/>
<line x1="610.4" y1="290.46" x2="617.4" y2="290.46" stroke="#231f20" stroke-width="1.2"/>
<rect x="607.2" y="291.64" width="13.4" height="4.56" fill="#fff" stroke="#231f20" stroke-width="1.2"/>
<line x1="633.68" y1="294.21" x2="633.68" y2="294.36" stroke="#231f20" stroke-width="1.2"/>
<line x1="630.18" y1="294.21" x2="637.18" y2="294.21" stroke="#231f20" stroke-width="1.2"/>
<rect x="626.98" y="294.36" width="13.4" height="1.84" fill="#fff" stroke="#231f20" stroke-width="1.2"/>
<line x1="653.46" y1="295.61" x2="653.46" y2="295.76" stroke="#231f20" stroke-width="1.2"/>
<line x1="649.96" y1="295.61" x2="656.96" y2="295.61" stroke="#231f20" stroke-width="1.2"/>
<rect x="646.76" y="295.76" width="13.4" height="0.6" fill="#fff" stroke="#231f20" stroke-width="1.2"/>
<line x1="673.24" y1="295.61" x2="673.24" y2="295.76" stroke="#231f20" stroke-width="1.2"/>
<line x1="669.74" y1="295.61" x2="676.74" y2="295.61" stroke="#231f20" stroke-width="1.2"/>
<rect x="666.54" y="295.76" width="13.4" height="0.6" fill="#fff" stroke="#231f20" stroke-width="1.2"/>
<line x1="406.2" y1="185.4" x2="406.2" y2="296.8" stroke="#231f20" stroke-width="1.3"/>
<line x1="405.6" y1="296.2" x2="682.6" y2="296.2" stroke="#231f20" stroke-width="1.3"/>
<line x1="403.2" y1="296.2" x2="406.2" y2="296.2" stroke="#231f20" stroke-width="1.2"/>
<text x="402.6" y="299.7" font-size="9.3" font-weight="bold" text-anchor="end" textLength="11" lengthAdjust="spacingAndGlyphs" stroke="#231f20" stroke-width="0.32">0.0</text>
<line x1="403.2" y1="259.4" x2="406.2" y2="259.4" stroke="#231f20" stroke-width="1.2"/>
<text x="402.6" y="262.9" font-size="9.3" font-weight="bold" text-anchor="end" textLength="11" lengthAdjust="spacingAndGlyphs" stroke="#231f20" stroke-width="0.32">0.5</text>
<line x1="403.2" y1="222.6" x2="406.2" y2="222.6" stroke="#231f20" stroke-width="1.2"/>
<text x="402.6" y="226.1" font-size="9.3" font-weight="bold" text-anchor="end" textLength="11" lengthAdjust="spacingAndGlyphs" stroke="#231f20" stroke-width="0.32">1.0</text>
<line x1="403.2" y1="185.8" x2="406.2" y2="185.8" stroke="#231f20" stroke-width="1.2"/>
<text x="402.6" y="189.3" font-size="9.3" font-weight="bold" text-anchor="end" textLength="11" lengthAdjust="spacingAndGlyphs" stroke="#231f20" stroke-width="0.32">1.5</text>
<line x1="416.1" y1="296.2" x2="416.1" y2="299.4" stroke="#231f20" stroke-width="1.2"/>
<text x="417.1" y="307.2" font-size="8.3" font-weight="bold" text-anchor="middle" transform="rotate(-45 417.1 307.2)" stroke="#231f20" stroke-width="0.32">1</text>
<line x1="435.88" y1="296.2" x2="435.88" y2="299.4" stroke="#231f20" stroke-width="1.2"/>
<text x="436.88" y="307.2" font-size="8.3" font-weight="bold" text-anchor="middle" transform="rotate(-45 436.88 307.2)" stroke="#231f20" stroke-width="0.32">2</text>
<line x1="455.66" y1="296.2" x2="455.66" y2="299.4" stroke="#231f20" stroke-width="1.2"/>
<text x="456.66" y="307.2" font-size="8.3" font-weight="bold" text-anchor="middle" transform="rotate(-45 456.66 307.2)" stroke="#231f20" stroke-width="0.32">3</text>
<line x1="475.44" y1="296.2" x2="475.44" y2="299.4" stroke="#231f20" stroke-width="1.2"/>
<text x="476.44" y="307.2" font-size="8.3" font-weight="bold" text-anchor="middle" transform="rotate(-45 476.44 307.2)" stroke="#231f20" stroke-width="0.32">4</text>
<line x1="495.22" y1="296.2" x2="495.22" y2="299.4" stroke="#231f20" stroke-width="1.2"/>
<text x="496.22" y="307.2" font-size="8.3" font-weight="bold" text-anchor="middle" transform="rotate(-45 496.22 307.2)" stroke="#231f20" stroke-width="0.32">5</text>
<line x1="515" y1="296.2" x2="515" y2="299.4" stroke="#231f20" stroke-width="1.2"/>
<text x="516" y="307.2" font-size="8.3" font-weight="bold" text-anchor="middle" transform="rotate(-45 516 307.2)" stroke="#231f20" stroke-width="0.32">6</text>
<line x1="534.78" y1="296.2" x2="534.78" y2="299.4" stroke="#231f20" stroke-width="1.2"/>
<text x="535.78" y="307.2" font-size="8.3" font-weight="bold" text-anchor="middle" transform="rotate(-45 535.78 307.2)" stroke="#231f20" stroke-width="0.32">7</text>
<line x1="554.56" y1="296.2" x2="554.56" y2="299.4" stroke="#231f20" stroke-width="1.2"/>
<text x="555.56" y="307.2" font-size="8.3" font-weight="bold" text-anchor="middle" transform="rotate(-45 555.56 307.2)" stroke="#231f20" stroke-width="0.32">8</text>
<line x1="574.34" y1="296.2" x2="574.34" y2="299.4" stroke="#231f20" stroke-width="1.2"/>
<text x="575.34" y="307.2" font-size="8.3" font-weight="bold" text-anchor="middle" transform="rotate(-45 575.34 307.2)" stroke="#231f20" stroke-width="0.32">9</text>
<line x1="594.12" y1="296.2" x2="594.12" y2="299.4" stroke="#231f20" stroke-width="1.2"/>
<text x="594.72" y="308.5" font-size="8.3" font-weight="bold" text-anchor="middle" transform="rotate(-45 594.72 308.5)" stroke="#231f20" stroke-width="0.32">10</text>
<line x1="613.9" y1="296.2" x2="613.9" y2="299.4" stroke="#231f20" stroke-width="1.2"/>
<text x="614.5" y="308.5" font-size="8.3" font-weight="bold" text-anchor="middle" transform="rotate(-45 614.5 308.5)" stroke="#231f20" stroke-width="0.32">11</text>
<line x1="633.68" y1="296.2" x2="633.68" y2="299.4" stroke="#231f20" stroke-width="1.2"/>
<text x="634.28" y="308.5" font-size="8.3" font-weight="bold" text-anchor="middle" transform="rotate(-45 634.28 308.5)" stroke="#231f20" stroke-width="0.32">12</text>
<line x1="653.46" y1="296.2" x2="653.46" y2="299.4" stroke="#231f20" stroke-width="1.2"/>
<text x="654.06" y="308.5" font-size="8.3" font-weight="bold" text-anchor="middle" transform="rotate(-45 654.06 308.5)" stroke="#231f20" stroke-width="0.32">13</text>
<line x1="673.24" y1="296.2" x2="673.24" y2="299.4" stroke="#231f20" stroke-width="1.2"/>
<text x="673.84" y="308.5" font-size="8.3" font-weight="bold" text-anchor="middle" transform="rotate(-45 673.84 308.5)" stroke="#231f20" stroke-width="0.32">14</text>
<text x="518.7" y="352.5" font-size="12.2" textLength="51" lengthAdjust="spacingAndGlyphs" stroke="#231f20" stroke-width="0.18">28S rRNA</text>
<text x="374" y="411.9" font-size="10" text-anchor="middle" textLength="86" lengthAdjust="spacingAndGlyphs" transform="rotate(-90 374 411.9)" stroke="#231f20" stroke-width="0.18">Relative expression</text>
<text x="386.7" y="411.9" font-size="10.6" text-anchor="middle" textLength="70" lengthAdjust="spacingAndGlyphs" transform="rotate(-90 386.7 411.9)" stroke="#231f20" stroke-width="0.18">(fold induction)</text>
<line x1="416.3" y1="466.78" x2="416.3" y2="466.93" stroke="#231f20" stroke-width="1.2"/>
<line x1="412.8" y1="466.78" x2="419.8" y2="466.78" stroke="#231f20" stroke-width="1.2"/>
<rect x="409.6" y="466.93" width="13.4" height="0.6" fill="#fff" stroke="#231f20" stroke-width="1.2"/>
<line x1="436.08" y1="466.78" x2="436.08" y2="466.93" stroke="#231f20" stroke-width="1.2"/>
<line x1="432.58" y1="466.78" x2="439.58" y2="466.78" stroke="#231f20" stroke-width="1.2"/>
<rect x="429.38" y="466.93" width="13.4" height="0.6" fill="#fff" stroke="#231f20" stroke-width="1.2"/>
<line x1="455.86" y1="465.67" x2="455.86" y2="465.82" stroke="#231f20" stroke-width="1.2"/>
<line x1="452.36" y1="465.67" x2="459.36" y2="465.67" stroke="#231f20" stroke-width="1.2"/>
<rect x="449.16" y="465.82" width="13.4" height="1.48" fill="#fff" stroke="#231f20" stroke-width="1.2"/>
<line x1="475.64" y1="457.31" x2="475.64" y2="459.31" stroke="#231f20" stroke-width="1.2"/>
<line x1="472.14" y1="457.31" x2="479.14" y2="457.31" stroke="#231f20" stroke-width="1.2"/>
<rect x="468.94" y="459.31" width="13.4" height="7.99" fill="#fff" stroke="#231f20" stroke-width="1.2"/>
<line x1="495.42" y1="386.64" x2="495.42" y2="391.82" stroke="#231f20" stroke-width="1.2"/>
<line x1="491.92" y1="386.64" x2="498.92" y2="386.64" stroke="#231f20" stroke-width="1.2"/>
<rect x="488.72" y="391.82" width="13.4" height="75.48" fill="#fff" stroke="#231f20" stroke-width="1.2"/>
<line x1="515.2" y1="455.83" x2="515.2" y2="456.2" stroke="#231f20" stroke-width="1.2"/>
<line x1="511.7" y1="455.83" x2="518.7" y2="455.83" stroke="#231f20" stroke-width="1.2"/>
<rect x="508.5" y="456.2" width="13.4" height="11.1" fill="#fff" stroke="#231f20" stroke-width="1.2"/>
<line x1="534.98" y1="463.23" x2="534.98" y2="464.34" stroke="#231f20" stroke-width="1.2"/>
<line x1="531.48" y1="463.23" x2="538.48" y2="463.23" stroke="#231f20" stroke-width="1.2"/>
<rect x="528.28" y="464.34" width="13.4" height="2.96" fill="#fff" stroke="#231f20" stroke-width="1.2"/>
<line x1="554.76" y1="461.01" x2="554.76" y2="464.34" stroke="#231f20" stroke-width="1.2"/>
<line x1="551.26" y1="461.01" x2="558.26" y2="461.01" stroke="#231f20" stroke-width="1.2"/>
<rect x="548.06" y="464.34" width="13.4" height="2.96" fill="#fff" stroke="#231f20" stroke-width="1.2"/>
<line x1="574.54" y1="466.41" x2="574.54" y2="466.56" stroke="#231f20" stroke-width="1.2"/>
<line x1="571.04" y1="466.41" x2="578.04" y2="466.41" stroke="#231f20" stroke-width="1.2"/>
<rect x="567.84" y="466.56" width="13.4" height="0.74" fill="#fff" stroke="#231f20" stroke-width="1.2"/>
<line x1="594.32" y1="466.78" x2="594.32" y2="466.93" stroke="#231f20" stroke-width="1.2"/>
<line x1="590.82" y1="466.78" x2="597.82" y2="466.78" stroke="#231f20" stroke-width="1.2"/>
<rect x="587.62" y="466.93" width="13.4" height="0.6" fill="#fff" stroke="#231f20" stroke-width="1.2"/>
<line x1="614.1" y1="461.01" x2="614.1" y2="463.82" stroke="#231f20" stroke-width="1.2"/>
<line x1="610.6" y1="461.01" x2="617.6" y2="461.01" stroke="#231f20" stroke-width="1.2"/>
<rect x="607.4" y="463.82" width="13.4" height="3.48" fill="#fff" stroke="#231f20" stroke-width="1.2"/>
<line x1="633.88" y1="466.41" x2="633.88" y2="466.56" stroke="#231f20" stroke-width="1.2"/>
<line x1="630.38" y1="466.41" x2="637.38" y2="466.41" stroke="#231f20" stroke-width="1.2"/>
<rect x="627.18" y="466.56" width="13.4" height="0.74" fill="#fff" stroke="#231f20" stroke-width="1.2"/>
<line x1="653.66" y1="465.82" x2="653.66" y2="466.56" stroke="#231f20" stroke-width="1.2"/>
<line x1="650.16" y1="465.82" x2="657.16" y2="465.82" stroke="#231f20" stroke-width="1.2"/>
<rect x="646.96" y="466.56" width="13.4" height="0.74" fill="#fff" stroke="#231f20" stroke-width="1.2"/>
<line x1="673.44" y1="466.78" x2="673.44" y2="466.93" stroke="#231f20" stroke-width="1.2"/>
<line x1="669.94" y1="466.78" x2="676.94" y2="466.78" stroke="#231f20" stroke-width="1.2"/>
<rect x="666.74" y="466.93" width="13.4" height="0.6" fill="#fff" stroke="#231f20" stroke-width="1.2"/>
<line x1="406.6" y1="356.2" x2="406.6" y2="467.9" stroke="#231f20" stroke-width="1.3"/>
<line x1="406" y1="467.3" x2="682.6" y2="467.3" stroke="#231f20" stroke-width="1.3"/>
<line x1="403.6" y1="467.3" x2="406.6" y2="467.3" stroke="#231f20" stroke-width="1.2"/>
<text x="403" y="470.8" font-size="9.3" font-weight="bold" text-anchor="end" textLength="11" lengthAdjust="spacingAndGlyphs" stroke="#231f20" stroke-width="0.32">0.0</text>
<line x1="403.6" y1="430.3" x2="406.6" y2="430.3" stroke="#231f20" stroke-width="1.2"/>
<text x="403" y="433.8" font-size="9.3" font-weight="bold" text-anchor="end" textLength="11" lengthAdjust="spacingAndGlyphs" stroke="#231f20" stroke-width="0.32">0.5</text>
<line x1="403.6" y1="393.3" x2="406.6" y2="393.3" stroke="#231f20" stroke-width="1.2"/>
<text x="403" y="396.8" font-size="9.3" font-weight="bold" text-anchor="end" textLength="11" lengthAdjust="spacingAndGlyphs" stroke="#231f20" stroke-width="0.32">1.0</text>
<line x1="403.6" y1="356.3" x2="406.6" y2="356.3" stroke="#231f20" stroke-width="1.2"/>
<text x="403" y="359.8" font-size="9.3" font-weight="bold" text-anchor="end" textLength="11" lengthAdjust="spacingAndGlyphs" stroke="#231f20" stroke-width="0.32">1.5</text>
<line x1="416.3" y1="467.3" x2="416.3" y2="470.5" stroke="#231f20" stroke-width="1.2"/>
<text x="417.3" y="478.3" font-size="8.3" font-weight="bold" text-anchor="middle" transform="rotate(-45 417.3 478.3)" stroke="#231f20" stroke-width="0.32">1</text>
<line x1="436.08" y1="467.3" x2="436.08" y2="470.5" stroke="#231f20" stroke-width="1.2"/>
<text x="437.08" y="478.3" font-size="8.3" font-weight="bold" text-anchor="middle" transform="rotate(-45 437.08 478.3)" stroke="#231f20" stroke-width="0.32">2</text>
<line x1="455.86" y1="467.3" x2="455.86" y2="470.5" stroke="#231f20" stroke-width="1.2"/>
<text x="456.86" y="478.3" font-size="8.3" font-weight="bold" text-anchor="middle" transform="rotate(-45 456.86 478.3)" stroke="#231f20" stroke-width="0.32">3</text>
<line x1="475.64" y1="467.3" x2="475.64" y2="470.5" stroke="#231f20" stroke-width="1.2"/>
<text x="476.64" y="478.3" font-size="8.3" font-weight="bold" text-anchor="middle" transform="rotate(-45 476.64 478.3)" stroke="#231f20" stroke-width="0.32">4</text>
<line x1="495.42" y1="467.3" x2="495.42" y2="470.5" stroke="#231f20" stroke-width="1.2"/>
<text x="496.42" y="478.3" font-size="8.3" font-weight="bold" text-anchor="middle" transform="rotate(-45 496.42 478.3)" stroke="#231f20" stroke-width="0.32">5</text>
<line x1="515.2" y1="467.3" x2="515.2" y2="470.5" stroke="#231f20" stroke-width="1.2"/>
<text x="516.2" y="478.3" font-size="8.3" font-weight="bold" text-anchor="middle" transform="rotate(-45 516.2 478.3)" stroke="#231f20" stroke-width="0.32">6</text>
<line x1="534.98" y1="467.3" x2="534.98" y2="470.5" stroke="#231f20" stroke-width="1.2"/>
<text x="535.98" y="478.3" font-size="8.3" font-weight="bold" text-anchor="middle" transform="rotate(-45 535.98 478.3)" stroke="#231f20" stroke-width="0.32">7</text>
<line x1="554.76" y1="467.3" x2="554.76" y2="470.5" stroke="#231f20" stroke-width="1.2"/>
<text x="555.76" y="478.3" font-size="8.3" font-weight="bold" text-anchor="middle" transform="rotate(-45 555.76 478.3)" stroke="#231f20" stroke-width="0.32">8</text>
<line x1="574.54" y1="467.3" x2="574.54" y2="470.5" stroke="#231f20" stroke-width="1.2"/>
<text x="575.54" y="478.3" font-size="8.3" font-weight="bold" text-anchor="middle" transform="rotate(-45 575.54 478.3)" stroke="#231f20" stroke-width="0.32">9</text>
<line x1="594.32" y1="467.3" x2="594.32" y2="470.5" stroke="#231f20" stroke-width="1.2"/>
<text x="594.92" y="479.6" font-size="8.3" font-weight="bold" text-anchor="middle" transform="rotate(-45 594.92 479.6)" stroke="#231f20" stroke-width="0.32">10</text>
<line x1="614.1" y1="467.3" x2="614.1" y2="470.5" stroke="#231f20" stroke-width="1.2"/>
<text x="614.7" y="479.6" font-size="8.3" font-weight="bold" text-anchor="middle" transform="rotate(-45 614.7 479.6)" stroke="#231f20" stroke-width="0.32">11</text>
<line x1="633.88" y1="467.3" x2="633.88" y2="470.5" stroke="#231f20" stroke-width="1.2"/>
<text x="634.48" y="479.6" font-size="8.3" font-weight="bold" text-anchor="middle" transform="rotate(-45 634.48 479.6)" stroke="#231f20" stroke-width="0.32">12</text>
<line x1="653.66" y1="467.3" x2="653.66" y2="470.5" stroke="#231f20" stroke-width="1.2"/>
<text x="654.26" y="479.6" font-size="8.3" font-weight="bold" text-anchor="middle" transform="rotate(-45 654.26 479.6)" stroke="#231f20" stroke-width="0.32">13</text>
<line x1="673.44" y1="467.3" x2="673.44" y2="470.5" stroke="#231f20" stroke-width="1.2"/>
<text x="674.04" y="479.6" font-size="8.3" font-weight="bold" text-anchor="middle" transform="rotate(-45 674.04 479.6)" stroke="#231f20" stroke-width="0.32">14</text>
<text x="512.1" y="512.8" font-size="12.2" textLength="66.3" lengthAdjust="spacingAndGlyphs" stroke="#231f20" stroke-width="0.18">PF11_0381a</text>
<text x="375.4" y="568.9" font-size="10" text-anchor="middle" textLength="86" lengthAdjust="spacingAndGlyphs" transform="rotate(-90 375.4 568.9)" stroke="#231f20" stroke-width="0.18">Relative expression</text>
<text x="388.3" y="568.9" font-size="10.6" text-anchor="middle" textLength="70" lengthAdjust="spacingAndGlyphs" transform="rotate(-90 388.3 568.9)" stroke="#231f20" stroke-width="0.18">(fold induction)</text>
<line x1="416.3" y1="626.25" x2="416.3" y2="626.62" stroke="#231f20" stroke-width="1.2"/>
<line x1="412.8" y1="626.25" x2="419.8" y2="626.25" stroke="#231f20" stroke-width="1.2"/>
<rect x="409.6" y="626.62" width="13.4" height="1.48" fill="#fff" stroke="#231f20" stroke-width="1.2"/>
<line x1="436.08" y1="626.48" x2="436.08" y2="626.62" stroke="#231f20" stroke-width="1.2"/>
<line x1="432.58" y1="626.48" x2="439.58" y2="626.48" stroke="#231f20" stroke-width="1.2"/>
<rect x="429.38" y="626.62" width="13.4" height="1.48" fill="#fff" stroke="#231f20" stroke-width="1.2"/>
<line x1="455.86" y1="622.05" x2="455.86" y2="622.2" stroke="#231f20" stroke-width="1.2"/>
<line x1="452.36" y1="622.05" x2="459.36" y2="622.05" stroke="#231f20" stroke-width="1.2"/>
<rect x="449.16" y="622.2" width="13.4" height="5.9" fill="#fff" stroke="#231f20" stroke-width="1.2"/>
<line x1="475.64" y1="617.03" x2="475.64" y2="619.47" stroke="#231f20" stroke-width="1.2"/>
<line x1="472.14" y1="617.03" x2="479.14" y2="617.03" stroke="#231f20" stroke-width="1.2"/>
<rect x="468.94" y="619.47" width="13.4" height="8.63" fill="#fff" stroke="#231f20" stroke-width="1.2"/>
<line x1="495.42" y1="541.02" x2="495.42" y2="555.04" stroke="#231f20" stroke-width="1.2"/>
<line x1="491.92" y1="541.02" x2="498.92" y2="541.02" stroke="#231f20" stroke-width="1.2"/>
<rect x="488.72" y="555.04" width="13.4" height="73.06" fill="#fff" stroke="#231f20" stroke-width="1.2"/>
<line x1="515.2" y1="612.45" x2="515.2" y2="612.75" stroke="#231f20" stroke-width="1.2"/>
<line x1="511.7" y1="612.45" x2="518.7" y2="612.45" stroke="#231f20" stroke-width="1.2"/>
<rect x="508.5" y="612.75" width="13.4" height="15.35" fill="#fff" stroke="#231f20" stroke-width="1.2"/>
<line x1="534.98" y1="622.93" x2="534.98" y2="623.3" stroke="#231f20" stroke-width="1.2"/>
<line x1="531.48" y1="622.93" x2="538.48" y2="622.93" stroke="#231f20" stroke-width="1.2"/>
<rect x="528.28" y="623.3" width="13.4" height="4.8" fill="#fff" stroke="#231f20" stroke-width="1.2"/>
<line x1="554.76" y1="625.15" x2="554.76" y2="626.25" stroke="#231f20" stroke-width="1.2"/>
<line x1="551.26" y1="625.15" x2="558.26" y2="625.15" stroke="#231f20" stroke-width="1.2"/>
<rect x="548.06" y="626.25" width="13.4" height="1.85" fill="#fff" stroke="#231f20" stroke-width="1.2"/>
<line x1="574.54" y1="625.74" x2="574.54" y2="625.89" stroke="#231f20" stroke-width="1.2"/>
<line x1="571.04" y1="625.74" x2="578.04" y2="625.74" stroke="#231f20" stroke-width="1.2"/>
<rect x="567.84" y="625.89" width="13.4" height="2.21" fill="#fff" stroke="#231f20" stroke-width="1.2"/>
<line x1="594.32" y1="625.89" x2="594.32" y2="626.03" stroke="#231f20" stroke-width="1.2"/>
<line x1="590.82" y1="625.89" x2="597.82" y2="625.89" stroke="#231f20" stroke-width="1.2"/>
<rect x="587.62" y="626.03" width="13.4" height="2.07" fill="#fff" stroke="#231f20" stroke-width="1.2"/>
<line x1="614.1" y1="623.3" x2="614.1" y2="624.41" stroke="#231f20" stroke-width="1.2"/>
<line x1="610.6" y1="623.3" x2="617.6" y2="623.3" stroke="#231f20" stroke-width="1.2"/>
<rect x="607.4" y="624.41" width="13.4" height="3.69" fill="#fff" stroke="#231f20" stroke-width="1.2"/>
<line x1="633.88" y1="627.58" x2="633.88" y2="627.73" stroke="#231f20" stroke-width="1.2"/>
<line x1="630.38" y1="627.58" x2="637.38" y2="627.58" stroke="#231f20" stroke-width="1.2"/>
<rect x="627.18" y="627.73" width="13.4" height="0.6" fill="#fff" stroke="#231f20" stroke-width="1.2"/>
<line x1="653.66" y1="626.62" x2="653.66" y2="627.36" stroke="#231f20" stroke-width="1.2"/>
<line x1="650.16" y1="626.62" x2="657.16" y2="626.62" stroke="#231f20" stroke-width="1.2"/>
<rect x="646.96" y="627.36" width="13.4" height="0.74" fill="#fff" stroke="#231f20" stroke-width="1.2"/>
<line x1="673.44" y1="627.73" x2="673.44" y2="627.88" stroke="#231f20" stroke-width="1.2"/>
<line x1="669.94" y1="627.73" x2="676.94" y2="627.73" stroke="#231f20" stroke-width="1.2"/>
<rect x="666.74" y="627.88" width="13.4" height="0.6" fill="#fff" stroke="#231f20" stroke-width="1.2"/>
<line x1="406.5" y1="517.4" x2="406.5" y2="628.7" stroke="#231f20" stroke-width="1.3"/>
<line x1="405.9" y1="628.1" x2="682.6" y2="628.1" stroke="#231f20" stroke-width="1.3"/>
<line x1="403.5" y1="628.1" x2="406.5" y2="628.1" stroke="#231f20" stroke-width="1.2"/>
<text x="402.9" y="631.6" font-size="9.3" font-weight="bold" text-anchor="end" textLength="11" lengthAdjust="spacingAndGlyphs" stroke="#231f20" stroke-width="0.32">0.0</text>
<line x1="403.5" y1="591.2" x2="406.5" y2="591.2" stroke="#231f20" stroke-width="1.2"/>
<text x="402.9" y="594.7" font-size="9.3" font-weight="bold" text-anchor="end" textLength="11" lengthAdjust="spacingAndGlyphs" stroke="#231f20" stroke-width="0.32">0.5</text>
<line x1="403.5" y1="554.3" x2="406.5" y2="554.3" stroke="#231f20" stroke-width="1.2"/>
<text x="402.9" y="557.8" font-size="9.3" font-weight="bold" text-anchor="end" textLength="11" lengthAdjust="spacingAndGlyphs" stroke="#231f20" stroke-width="0.32">1.0</text>
<line x1="403.5" y1="517.4" x2="406.5" y2="517.4" stroke="#231f20" stroke-width="1.2"/>
<text x="402.9" y="520.9" font-size="9.3" font-weight="bold" text-anchor="end" textLength="11" lengthAdjust="spacingAndGlyphs" stroke="#231f20" stroke-width="0.32">1.5</text>
<line x1="416.3" y1="628.1" x2="416.3" y2="631.3" stroke="#231f20" stroke-width="1.2"/>
<text x="417.3" y="639.1" font-size="8.3" font-weight="bold" text-anchor="middle" transform="rotate(-45 417.3 639.1)" stroke="#231f20" stroke-width="0.32">1</text>
<line x1="436.08" y1="628.1" x2="436.08" y2="631.3" stroke="#231f20" stroke-width="1.2"/>
<text x="437.08" y="639.1" font-size="8.3" font-weight="bold" text-anchor="middle" transform="rotate(-45 437.08 639.1)" stroke="#231f20" stroke-width="0.32">2</text>
<line x1="455.86" y1="628.1" x2="455.86" y2="631.3" stroke="#231f20" stroke-width="1.2"/>
<text x="456.86" y="639.1" font-size="8.3" font-weight="bold" text-anchor="middle" transform="rotate(-45 456.86 639.1)" stroke="#231f20" stroke-width="0.32">3</text>
<line x1="475.64" y1="628.1" x2="475.64" y2="631.3" stroke="#231f20" stroke-width="1.2"/>
<text x="476.64" y="639.1" font-size="8.3" font-weight="bold" text-anchor="middle" transform="rotate(-45 476.64 639.1)" stroke="#231f20" stroke-width="0.32">4</text>
<line x1="495.42" y1="628.1" x2="495.42" y2="631.3" stroke="#231f20" stroke-width="1.2"/>
<text x="496.42" y="639.1" font-size="8.3" font-weight="bold" text-anchor="middle" transform="rotate(-45 496.42 639.1)" stroke="#231f20" stroke-width="0.32">5</text>
<line x1="515.2" y1="628.1" x2="515.2" y2="631.3" stroke="#231f20" stroke-width="1.2"/>
<text x="516.2" y="639.1" font-size="8.3" font-weight="bold" text-anchor="middle" transform="rotate(-45 516.2 639.1)" stroke="#231f20" stroke-width="0.32">6</text>
<line x1="534.98" y1="628.1" x2="534.98" y2="631.3" stroke="#231f20" stroke-width="1.2"/>
<text x="535.98" y="639.1" font-size="8.3" font-weight="bold" text-anchor="middle" transform="rotate(-45 535.98 639.1)" stroke="#231f20" stroke-width="0.32">7</text>
<line x1="554.76" y1="628.1" x2="554.76" y2="631.3" stroke="#231f20" stroke-width="1.2"/>
<text x="555.76" y="639.1" font-size="8.3" font-weight="bold" text-anchor="middle" transform="rotate(-45 555.76 639.1)" stroke="#231f20" stroke-width="0.32">8</text>
<line x1="574.54" y1="628.1" x2="574.54" y2="631.3" stroke="#231f20" stroke-width="1.2"/>
<text x="575.54" y="639.1" font-size="8.3" font-weight="bold" text-anchor="middle" transform="rotate(-45 575.54 639.1)" stroke="#231f20" stroke-width="0.32">9</text>
<line x1="594.32" y1="628.1" x2="594.32" y2="631.3" stroke="#231f20" stroke-width="1.2"/>
<text x="594.92" y="640.4" font-size="8.3" font-weight="bold" text-anchor="middle" transform="rotate(-45 594.92 640.4)" stroke="#231f20" stroke-width="0.32">10</text>
<line x1="614.1" y1="628.1" x2="614.1" y2="631.3" stroke="#231f20" stroke-width="1.2"/>
<text x="614.7" y="640.4" font-size="8.3" font-weight="bold" text-anchor="middle" transform="rotate(-45 614.7 640.4)" stroke="#231f20" stroke-width="0.32">11</text>
<line x1="633.88" y1="628.1" x2="633.88" y2="631.3" stroke="#231f20" stroke-width="1.2"/>
<text x="634.48" y="640.4" font-size="8.3" font-weight="bold" text-anchor="middle" transform="rotate(-45 634.48 640.4)" stroke="#231f20" stroke-width="0.32">12</text>
<line x1="653.66" y1="628.1" x2="653.66" y2="631.3" stroke="#231f20" stroke-width="1.2"/>
<text x="654.26" y="640.4" font-size="8.3" font-weight="bold" text-anchor="middle" transform="rotate(-45 654.26 640.4)" stroke="#231f20" stroke-width="0.32">13</text>
<line x1="673.44" y1="628.1" x2="673.44" y2="631.3" stroke="#231f20" stroke-width="1.2"/>
<text x="674.04" y="640.4" font-size="8.3" font-weight="bold" text-anchor="middle" transform="rotate(-45 674.04 640.4)" stroke="#231f20" stroke-width="0.32">14</text>
<text x="524.8" y="685.8" font-size="12.2" textLength="40.5" lengthAdjust="spacingAndGlyphs" stroke="#231f20" stroke-width="0.18">miR451</text>
<text x="375.4" y="749.9" font-size="10" text-anchor="middle" textLength="86" lengthAdjust="spacingAndGlyphs" transform="rotate(-90 375.4 749.9)" stroke="#231f20" stroke-width="0.18">Relative expression</text>
<text x="388.3" y="749.9" font-size="10.6" text-anchor="middle" textLength="70" lengthAdjust="spacingAndGlyphs" transform="rotate(-90 388.3 749.9)" stroke="#231f20" stroke-width="0.18">(fold induction)</text>
<line x1="415.9" y1="794.25" x2="415.9" y2="794.99" stroke="#231f20" stroke-width="1.2"/>
<line x1="412.4" y1="794.25" x2="419.4" y2="794.25" stroke="#231f20" stroke-width="1.2"/>
<rect x="409.2" y="794.99" width="13.4" height="1.11" fill="#fff" stroke="#231f20" stroke-width="1.2"/>
<line x1="435.68" y1="790.77" x2="435.68" y2="790.99" stroke="#231f20" stroke-width="1.2"/>
<line x1="432.18" y1="790.77" x2="439.18" y2="790.77" stroke="#231f20" stroke-width="1.2"/>
<rect x="428.98" y="790.99" width="13.4" height="5.11" fill="#fff" stroke="#231f20" stroke-width="1.2"/>
<line x1="455.46" y1="795.73" x2="455.46" y2="795.88" stroke="#231f20" stroke-width="1.2"/>
<line x1="451.96" y1="795.73" x2="458.96" y2="795.73" stroke="#231f20" stroke-width="1.2"/>
<rect x="448.76" y="795.88" width="13.4" height="0.6" fill="#fff" stroke="#231f20" stroke-width="1.2"/>
<line x1="475.24" y1="785.89" x2="475.24" y2="787.59" stroke="#231f20" stroke-width="1.2"/>
<line x1="471.74" y1="785.89" x2="478.74" y2="785.89" stroke="#231f20" stroke-width="1.2"/>
<rect x="468.54" y="787.59" width="13.4" height="8.51" fill="#fff" stroke="#231f20" stroke-width="1.2"/>
<line x1="495.02" y1="716.48" x2="495.02" y2="722.1" stroke="#231f20" stroke-width="1.2"/>
<line x1="491.52" y1="716.48" x2="498.52" y2="716.48" stroke="#231f20" stroke-width="1.2"/>
<rect x="488.32" y="722.1" width="13.4" height="74" fill="#fff" stroke="#231f20" stroke-width="1.2"/>
<line x1="514.8" y1="795.36" x2="514.8" y2="795.58" stroke="#231f20" stroke-width="1.2"/>
<line x1="511.3" y1="795.36" x2="518.3" y2="795.36" stroke="#231f20" stroke-width="1.2"/>
<rect x="508.1" y="795.58" width="13.4" height="0.6" fill="#fff" stroke="#231f20" stroke-width="1.2"/>
<line x1="534.58" y1="786.33" x2="534.58" y2="786.48" stroke="#231f20" stroke-width="1.2"/>
<line x1="531.08" y1="786.33" x2="538.08" y2="786.33" stroke="#231f20" stroke-width="1.2"/>
<rect x="527.88" y="786.48" width="13.4" height="9.62" fill="#fff" stroke="#231f20" stroke-width="1.2"/>
<line x1="554.36" y1="791.29" x2="554.36" y2="793.88" stroke="#231f20" stroke-width="1.2"/>
<line x1="550.86" y1="791.29" x2="557.86" y2="791.29" stroke="#231f20" stroke-width="1.2"/>
<rect x="547.66" y="793.88" width="13.4" height="2.22" fill="#fff" stroke="#231f20" stroke-width="1.2"/>
<line x1="574.14" y1="793.51" x2="574.14" y2="793.66" stroke="#231f20" stroke-width="1.2"/>
<line x1="570.64" y1="793.51" x2="577.64" y2="793.51" stroke="#231f20" stroke-width="1.2"/>
<rect x="567.44" y="793.66" width="13.4" height="2.44" fill="#fff" stroke="#231f20" stroke-width="1.2"/>
<line x1="593.92" y1="793.51" x2="593.92" y2="793.66" stroke="#231f20" stroke-width="1.2"/>
<line x1="590.42" y1="793.51" x2="597.42" y2="793.51" stroke="#231f20" stroke-width="1.2"/>
<rect x="587.22" y="793.66" width="13.4" height="2.44" fill="#fff" stroke="#231f20" stroke-width="1.2"/>
<line x1="613.7" y1="795.58" x2="613.7" y2="795.73" stroke="#231f20" stroke-width="1.2"/>
<line x1="610.2" y1="795.58" x2="617.2" y2="795.58" stroke="#231f20" stroke-width="1.2"/>
<rect x="607" y="795.73" width="13.4" height="0.6" fill="#fff" stroke="#231f20" stroke-width="1.2"/>
<line x1="633.48" y1="777.6" x2="633.48" y2="778.34" stroke="#231f20" stroke-width="1.2"/>
<line x1="629.98" y1="777.6" x2="636.98" y2="777.6" stroke="#231f20" stroke-width="1.2"/>
<rect x="626.78" y="778.34" width="13.4" height="17.76" fill="#fff" stroke="#231f20" stroke-width="1.2"/>
<line x1="653.26" y1="795.73" x2="653.26" y2="795.88" stroke="#231f20" stroke-width="1.2"/>
<line x1="649.76" y1="795.73" x2="656.76" y2="795.73" stroke="#231f20" stroke-width="1.2"/>
<rect x="646.56" y="795.88" width="13.4" height="0.6" fill="#fff" stroke="#231f20" stroke-width="1.2"/>
<line x1="673.04" y1="795.73" x2="673.04" y2="795.88" stroke="#231f20" stroke-width="1.2"/>
<line x1="669.54" y1="795.73" x2="676.54" y2="795.73" stroke="#231f20" stroke-width="1.2"/>
<rect x="666.34" y="795.88" width="13.4" height="0.6" fill="#fff" stroke="#231f20" stroke-width="1.2"/>
<line x1="406" y1="685.4" x2="406" y2="796.7" stroke="#231f20" stroke-width="1.3"/>
<line x1="405.4" y1="796.1" x2="682.6" y2="796.1" stroke="#231f20" stroke-width="1.3"/>
<line x1="403" y1="796.1" x2="406" y2="796.1" stroke="#231f20" stroke-width="1.2"/>
<text x="402.4" y="799.6" font-size="9.3" font-weight="bold" text-anchor="end" textLength="11" lengthAdjust="spacingAndGlyphs" stroke="#231f20" stroke-width="0.32">0.0</text>
<line x1="403" y1="759.1" x2="406" y2="759.1" stroke="#231f20" stroke-width="1.2"/>
<text x="402.4" y="762.6" font-size="9.3" font-weight="bold" text-anchor="end" textLength="11" lengthAdjust="spacingAndGlyphs" stroke="#231f20" stroke-width="0.32">0.5</text>
<line x1="403" y1="722.1" x2="406" y2="722.1" stroke="#231f20" stroke-width="1.2"/>
<text x="402.4" y="725.6" font-size="9.3" font-weight="bold" text-anchor="end" textLength="11" lengthAdjust="spacingAndGlyphs" stroke="#231f20" stroke-width="0.32">1.0</text>
<line x1="403" y1="685.1" x2="406" y2="685.1" stroke="#231f20" stroke-width="1.2"/>
<text x="402.4" y="688.6" font-size="9.3" font-weight="bold" text-anchor="end" textLength="11" lengthAdjust="spacingAndGlyphs" stroke="#231f20" stroke-width="0.32">1.5</text>
<line x1="415.9" y1="796.1" x2="415.9" y2="799.3" stroke="#231f20" stroke-width="1.2"/>
<text x="416.9" y="807.1" font-size="8.3" font-weight="bold" text-anchor="middle" transform="rotate(-45 416.9 807.1)" stroke="#231f20" stroke-width="0.32">1</text>
<line x1="435.68" y1="796.1" x2="435.68" y2="799.3" stroke="#231f20" stroke-width="1.2"/>
<text x="436.68" y="807.1" font-size="8.3" font-weight="bold" text-anchor="middle" transform="rotate(-45 436.68 807.1)" stroke="#231f20" stroke-width="0.32">2</text>
<line x1="455.46" y1="796.1" x2="455.46" y2="799.3" stroke="#231f20" stroke-width="1.2"/>
<text x="456.46" y="807.1" font-size="8.3" font-weight="bold" text-anchor="middle" transform="rotate(-45 456.46 807.1)" stroke="#231f20" stroke-width="0.32">3</text>
<line x1="475.24" y1="796.1" x2="475.24" y2="799.3" stroke="#231f20" stroke-width="1.2"/>
<text x="476.24" y="807.1" font-size="8.3" font-weight="bold" text-anchor="middle" transform="rotate(-45 476.24 807.1)" stroke="#231f20" stroke-width="0.32">4</text>
<line x1="495.02" y1="796.1" x2="495.02" y2="799.3" stroke="#231f20" stroke-width="1.2"/>
<text x="496.02" y="807.1" font-size="8.3" font-weight="bold" text-anchor="middle" transform="rotate(-45 496.02 807.1)" stroke="#231f20" stroke-width="0.32">5</text>
<line x1="514.8" y1="796.1" x2="514.8" y2="799.3" stroke="#231f20" stroke-width="1.2"/>
<text x="515.8" y="807.1" font-size="8.3" font-weight="bold" text-anchor="middle" transform="rotate(-45 515.8 807.1)" stroke="#231f20" stroke-width="0.32">6</text>
<line x1="534.58" y1="796.1" x2="534.58" y2="799.3" stroke="#231f20" stroke-width="1.2"/>
<text x="535.58" y="807.1" font-size="8.3" font-weight="bold" text-anchor="middle" transform="rotate(-45 535.58 807.1)" stroke="#231f20" stroke-width="0.32">7</text>
<line x1="554.36" y1="796.1" x2="554.36" y2="799.3" stroke="#231f20" stroke-width="1.2"/>
<text x="555.36" y="807.1" font-size="8.3" font-weight="bold" text-anchor="middle" transform="rotate(-45 555.36 807.1)" stroke="#231f20" stroke-width="0.32">8</text>
<line x1="574.14" y1="796.1" x2="574.14" y2="799.3" stroke="#231f20" stroke-width="1.2"/>
<text x="575.14" y="807.1" font-size="8.3" font-weight="bold" text-anchor="middle" transform="rotate(-45 575.14 807.1)" stroke="#231f20" stroke-width="0.32">9</text>
<line x1="593.92" y1="796.1" x2="593.92" y2="799.3" stroke="#231f20" stroke-width="1.2"/>
<text x="594.52" y="808.4" font-size="8.3" font-weight="bold" text-anchor="middle" transform="rotate(-45 594.52 808.4)" stroke="#231f20" stroke-width="0.32">10</text>
<line x1="613.7" y1="796.1" x2="613.7" y2="799.3" stroke="#231f20" stroke-width="1.2"/>
<text x="614.3" y="808.4" font-size="8.3" font-weight="bold" text-anchor="middle" transform="rotate(-45 614.3 808.4)" stroke="#231f20" stroke-width="0.32">11</text>
<line x1="633.48" y1="796.1" x2="633.48" y2="799.3" stroke="#231f20" stroke-width="1.2"/>
<text x="634.08" y="808.4" font-size="8.3" font-weight="bold" text-anchor="middle" transform="rotate(-45 634.08 808.4)" stroke="#231f20" stroke-width="0.32">12</text>
<line x1="653.26" y1="796.1" x2="653.26" y2="799.3" stroke="#231f20" stroke-width="1.2"/>
<text x="653.86" y="808.4" font-size="8.3" font-weight="bold" text-anchor="middle" transform="rotate(-45 653.86 808.4)" stroke="#231f20" stroke-width="0.32">13</text>
<line x1="673.04" y1="796.1" x2="673.04" y2="799.3" stroke="#231f20" stroke-width="1.2"/>
<text x="673.64" y="808.4" font-size="8.3" font-weight="bold" text-anchor="middle" transform="rotate(-45 673.64 808.4)" stroke="#231f20" stroke-width="0.32">14</text>
<line x1="52.2" y1="795.3" x2="55.2" y2="795.3" stroke="#231f20" stroke-width="1.2"/>
<text x="51.6" y="798.2" font-size="7.5" font-weight="bold" text-anchor="end" textLength="3.6" lengthAdjust="spacingAndGlyphs" stroke="#231f20" stroke-width="0.32">0</text>
<line x1="52.2" y1="770.75" x2="55.2" y2="770.75" stroke="#231f20" stroke-width="1.2"/>
<text x="51.6" y="773.65" font-size="7.5" font-weight="bold" text-anchor="end" textLength="7.6" lengthAdjust="spacingAndGlyphs" stroke="#231f20" stroke-width="0.32">20</text>
<line x1="52.2" y1="746.2" x2="55.2" y2="746.2" stroke="#231f20" stroke-width="1.2"/>
<text x="51.6" y="749.1" font-size="7.5" font-weight="bold" text-anchor="end" textLength="7.6" lengthAdjust="spacingAndGlyphs" stroke="#231f20" stroke-width="0.32">40</text>
<line x1="52.2" y1="721.65" x2="55.2" y2="721.65" stroke="#231f20" stroke-width="1.2"/>
<text x="51.6" y="724.55" font-size="7.5" font-weight="bold" text-anchor="end" textLength="7.6" lengthAdjust="spacingAndGlyphs" stroke="#231f20" stroke-width="0.32">60</text>
<line x1="52.2" y1="697.1" x2="55.2" y2="697.1" stroke="#231f20" stroke-width="1.2"/>
<text x="51.6" y="700" font-size="7.5" font-weight="bold" text-anchor="end" textLength="7.6" lengthAdjust="spacingAndGlyphs" stroke="#231f20" stroke-width="0.32">80</text>
<line x1="52.2" y1="672.55" x2="55.2" y2="672.55" stroke="#231f20" stroke-width="1.2"/>
<text x="51.6" y="675.45" font-size="7.5" font-weight="bold" text-anchor="end" textLength="11.2" lengthAdjust="spacingAndGlyphs" stroke="#231f20" stroke-width="0.32">100</text>
<line x1="64.5" y1="795.3" x2="64.5" y2="798.3" stroke="#231f20" stroke-width="1.2"/>
<text x="64.7" y="806.2" font-size="7.6" font-weight="bold" text-anchor="middle" textLength="3.8" lengthAdjust="spacingAndGlyphs" stroke="#231f20" stroke-width="0.32">1</text>
<line x1="82.8" y1="795.3" x2="82.8" y2="798.3" stroke="#231f20" stroke-width="1.2"/>
<text x="83" y="806.2" font-size="7.6" font-weight="bold" text-anchor="middle" textLength="3.8" lengthAdjust="spacingAndGlyphs" stroke="#231f20" stroke-width="0.32">2</text>
<line x1="101.1" y1="795.3" x2="101.1" y2="798.3" stroke="#231f20" stroke-width="1.2"/>
<text x="101.3" y="806.2" font-size="7.6" font-weight="bold" text-anchor="middle" textLength="3.8" lengthAdjust="spacingAndGlyphs" stroke="#231f20" stroke-width="0.32">3</text>
<line x1="119.4" y1="795.3" x2="119.4" y2="798.3" stroke="#231f20" stroke-width="1.2"/>
<text x="119.6" y="806.2" font-size="7.6" font-weight="bold" text-anchor="middle" textLength="3.8" lengthAdjust="spacingAndGlyphs" stroke="#231f20" stroke-width="0.32">4</text>
<line x1="137.7" y1="795.3" x2="137.7" y2="798.3" stroke="#231f20" stroke-width="1.2"/>
<text x="137.9" y="806.2" font-size="7.6" font-weight="bold" text-anchor="middle" textLength="3.8" lengthAdjust="spacingAndGlyphs" stroke="#231f20" stroke-width="0.32">5</text>
<line x1="156" y1="795.3" x2="156" y2="798.3" stroke="#231f20" stroke-width="1.2"/>
<text x="156.2" y="806.2" font-size="7.6" font-weight="bold" text-anchor="middle" textLength="3.8" lengthAdjust="spacingAndGlyphs" stroke="#231f20" stroke-width="0.32">6</text>
<line x1="174.3" y1="795.3" x2="174.3" y2="798.3" stroke="#231f20" stroke-width="1.2"/>
<text x="174.5" y="806.2" font-size="7.6" font-weight="bold" text-anchor="middle" textLength="3.8" lengthAdjust="spacingAndGlyphs" stroke="#231f20" stroke-width="0.32">7</text>
<line x1="192.6" y1="795.3" x2="192.6" y2="798.3" stroke="#231f20" stroke-width="1.2"/>
<text x="192.8" y="806.2" font-size="7.6" font-weight="bold" text-anchor="middle" textLength="3.8" lengthAdjust="spacingAndGlyphs" stroke="#231f20" stroke-width="0.32">8</text>
<line x1="210.9" y1="795.3" x2="210.9" y2="798.3" stroke="#231f20" stroke-width="1.2"/>
<text x="211.1" y="806.2" font-size="7.6" font-weight="bold" text-anchor="middle" textLength="3.8" lengthAdjust="spacingAndGlyphs" stroke="#231f20" stroke-width="0.32">9</text>
<line x1="229.2" y1="795.3" x2="229.2" y2="798.3" stroke="#231f20" stroke-width="1.2"/>
<text x="229.4" y="806.2" font-size="7.6" font-weight="bold" text-anchor="middle" textLength="8" lengthAdjust="spacingAndGlyphs" stroke="#231f20" stroke-width="0.32">10</text>
<line x1="247.5" y1="795.3" x2="247.5" y2="798.3" stroke="#231f20" stroke-width="1.2"/>
<text x="247.7" y="806.2" font-size="7.6" font-weight="bold" text-anchor="middle" textLength="8" lengthAdjust="spacingAndGlyphs" stroke="#231f20" stroke-width="0.32">11</text>
<line x1="265.8" y1="795.3" x2="265.8" y2="798.3" stroke="#231f20" stroke-width="1.2"/>
<text x="266" y="806.2" font-size="7.6" font-weight="bold" text-anchor="middle" textLength="8" lengthAdjust="spacingAndGlyphs" stroke="#231f20" stroke-width="0.32">12</text>
<line x1="284.1" y1="795.3" x2="284.1" y2="798.3" stroke="#231f20" stroke-width="1.2"/>
<text x="284.3" y="806.2" font-size="7.6" font-weight="bold" text-anchor="middle" textLength="8" lengthAdjust="spacingAndGlyphs" stroke="#231f20" stroke-width="0.32">13</text>
<text x="156.4" y="816" font-size="8.8" font-weight="bold" textLength="36" lengthAdjust="spacingAndGlyphs" stroke="#231f20" stroke-width="0.32">Fractions</text>
<text x="34.4" y="732.4" font-size="8" font-weight="bold" text-anchor="middle" textLength="112.2" lengthAdjust="spacingAndGlyphs" transform="rotate(-90 34.4 732.4)" stroke="#231f20" stroke-width="0.32">Protein concentration (ug/ml)</text>
<line x1="247.5" y1="732.33" x2="247.5" y2="737.73" stroke="#93c851" stroke-width="1.2"/>
<line x1="245" y1="732.33" x2="250" y2="732.33" stroke="#93c851" stroke-width="1.2"/>
<line x1="245" y1="737.73" x2="250" y2="737.73" stroke="#93c851" stroke-width="1.2"/>
<polyline points="64.5,795.3 82.8,794.69 101.1,794.69 119.4,794.32 137.7,788.92 156,782.17 174.3,773.45 192.6,753.07 210.9,700.78 229.2,672.55 247.5,735.03 265.8,782.53 284.1,788.92" fill="none" stroke="#93c851" stroke-width="1.05" stroke-linejoin="round"/>
<circle cx="64.5" cy="795.3" r="2.3" fill="#93c851"/>
<circle cx="82.8" cy="794.69" r="2.3" fill="#93c851"/>
<circle cx="101.1" cy="794.69" r="2.3" fill="#93c851"/>
<circle cx="119.4" cy="794.32" r="2.3" fill="#93c851"/>
<circle cx="137.7" cy="788.92" r="2.3" fill="#93c851"/>
<circle cx="156" cy="782.17" r="2.3" fill="#93c851"/>
<circle cx="174.3" cy="773.45" r="2.3" fill="#93c851"/>
<circle cx="192.6" cy="753.07" r="2.3" fill="#93c851"/>
<circle cx="210.9" cy="700.78" r="2.3" fill="#93c851"/>
<circle cx="229.2" cy="672.55" r="2.3" fill="#93c851"/>
<circle cx="247.5" cy="735.03" r="2.3" fill="#93c851"/>
<circle cx="265.8" cy="782.53" r="2.3" fill="#93c851"/>
<circle cx="284.1" cy="788.92" r="2.3" fill="#93c851"/>
<line x1="210.9" y1="733.56" x2="210.9" y2="737.24" stroke="#f6d294" stroke-width="1.2"/>
<line x1="208.4" y1="733.56" x2="213.4" y2="733.56" stroke="#f6d294" stroke-width="1.2"/>
<line x1="208.4" y1="737.24" x2="213.4" y2="737.24" stroke="#f6d294" stroke-width="1.2"/>
<polyline points="64.5,795.3 82.8,794.93 101.1,794.93 119.4,794.69 137.7,789.65 156,787.93 174.3,780.82 192.6,759.95 210.9,735.4 229.2,672.55 247.5,705.69 265.8,758.97 284.1,775.78" fill="none" stroke="#f6d294" stroke-width="1.05" stroke-linejoin="round"/>
<polygon points="64.5,792.85 62.1,796.93 66.9,796.93" fill="#f6d294"/>
<polygon points="82.8,792.48 80.4,796.56 85.2,796.56" fill="#f6d294"/>
<polygon points="101.1,792.48 98.7,796.56 103.5,796.56" fill="#f6d294"/>
<polygon points="119.4,792.24 117,796.32 121.8,796.32" fill="#f6d294"/>
<polygon points="137.7,787.21 135.3,791.29 140.1,791.29" fill="#f6d294"/>
<polygon points="156,785.49 153.6,789.57 158.4,789.57" fill="#f6d294"/>
<polygon points="174.3,778.37 171.9,782.45 176.7,782.45" fill="#f6d294"/>
<polygon points="192.6,757.5 190.2,761.58 195,761.58" fill="#f6d294"/>
<polygon points="210.9,732.95 208.5,737.03 213.3,737.03" fill="#f6d294"/>
<polygon points="229.2,670.1 226.8,674.18 231.6,674.18" fill="#f6d294"/>
<polygon points="247.5,703.24 245.1,707.32 249.9,707.32" fill="#f6d294"/>
<polygon points="265.8,756.52 263.4,760.6 268.2,760.6" fill="#f6d294"/>
<polygon points="284.1,773.33 281.7,777.41 286.5,777.41" fill="#f6d294"/>
<line x1="229.2" y1="716.74" x2="229.2" y2="724.1" stroke="#5c92d2" stroke-width="1.2"/>
<line x1="226.7" y1="716.74" x2="231.7" y2="716.74" stroke="#5c92d2" stroke-width="1.2"/>
<line x1="226.7" y1="724.1" x2="231.7" y2="724.1" stroke="#5c92d2" stroke-width="1.2"/>
<polyline points="64.5,795.3 82.8,795.3 101.1,795.3 119.4,795.3 137.7,795.3 156,795.3 174.3,795.3 192.6,795.3 210.9,795.3 229.2,720.42 247.5,672.55 265.8,780.2 284.1,785.23" fill="none" stroke="#5c92d2" stroke-width="1.05" stroke-linejoin="round"/>
<polygon points="64.5,796.15 62.1,792.07 66.9,792.07" fill="#5c92d2"/>
<polygon points="82.8,796.15 80.4,792.07 85.2,792.07" fill="#5c92d2"/>
<polygon points="101.1,796.15 98.7,792.07 103.5,792.07" fill="#5c92d2"/>
<polygon points="119.4,796.15 117,792.07 121.8,792.07" fill="#5c92d2"/>
<polygon points="137.7,796.15 135.3,792.07 140.1,792.07" fill="#5c92d2"/>
<polygon points="156,796.15 153.6,792.07 158.4,792.07" fill="#5c92d2"/>
<polygon points="174.3,796.15 171.9,792.07 176.7,792.07" fill="#5c92d2"/>
<polygon points="192.6,796.15 190.2,792.07 195,792.07" fill="#5c92d2"/>
<polygon points="210.9,796.15 208.5,792.07 213.3,792.07" fill="#5c92d2"/>
<polygon points="229.2,722.87 226.8,718.79 231.6,718.79" fill="#5c92d2"/>
<polygon points="247.5,675 245.1,670.92 249.9,670.92" fill="#5c92d2"/>
<polygon points="265.8,782.65 263.4,778.57 268.2,778.57" fill="#5c92d2"/>
<polygon points="284.1,787.68 281.7,783.6 286.5,783.6" fill="#5c92d2"/>
<line x1="119.4" y1="760.93" x2="119.4" y2="768.29" stroke="#d93a2e" stroke-width="1.2"/>
<line x1="116.9" y1="760.93" x2="121.9" y2="760.93" stroke="#d93a2e" stroke-width="1.2"/>
<line x1="116.9" y1="768.29" x2="121.9" y2="768.29" stroke="#d93a2e" stroke-width="1.2"/>
<polyline points="101.1,794.69 119.4,764.61 137.7,672.55 156,778.97 174.3,790.76 192.6,789.9 210.9,791.13 229.2,794.2 247.5,787.32 265.8,793.95 284.1,794.93" fill="none" stroke="#d93a2e" stroke-width="1.05" stroke-linejoin="round"/>
<rect x="98.8" y="792.39" width="4.6" height="4.6" fill="#d93a2e"/>
<rect x="117.1" y="762.31" width="4.6" height="4.6" fill="#d93a2e"/>
<rect x="135.4" y="670.25" width="4.6" height="4.6" fill="#d93a2e"/>
<rect x="153.7" y="776.67" width="4.6" height="4.6" fill="#d93a2e"/>
<rect x="172" y="788.46" width="4.6" height="4.6" fill="#d93a2e"/>
<rect x="190.3" y="787.6" width="4.6" height="4.6" fill="#d93a2e"/>
<rect x="208.6" y="788.83" width="4.6" height="4.6" fill="#d93a2e"/>
<rect x="226.9" y="791.9" width="4.6" height="4.6" fill="#d93a2e"/>
<rect x="245.2" y="785.02" width="4.6" height="4.6" fill="#d93a2e"/>
<rect x="263.5" y="791.65" width="4.6" height="4.6" fill="#d93a2e"/>
<rect x="281.8" y="792.63" width="4.6" height="4.6" fill="#d93a2e"/>
<line x1="174.3" y1="753.56" x2="174.3" y2="758.47" stroke="#111111" stroke-width="1.2"/>
<line x1="171.8" y1="753.56" x2="176.8" y2="753.56" stroke="#111111" stroke-width="1.2"/>
<line x1="171.8" y1="758.47" x2="176.8" y2="758.47" stroke="#111111" stroke-width="1.2"/>
<line x1="210.9" y1="698.7" x2="210.9" y2="704.59" stroke="#111111" stroke-width="1.2"/>
<line x1="208.4" y1="698.7" x2="213.4" y2="698.7" stroke="#111111" stroke-width="1.2"/>
<line x1="208.4" y1="704.59" x2="213.4" y2="704.59" stroke="#111111" stroke-width="1.2"/>
<line x1="229.2" y1="692.56" x2="229.2" y2="703.36" stroke="#111111" stroke-width="1.2"/>
<line x1="226.7" y1="692.56" x2="231.7" y2="692.56" stroke="#111111" stroke-width="1.2"/>
<line x1="226.7" y1="703.36" x2="231.7" y2="703.36" stroke="#111111" stroke-width="1.2"/>
<line x1="265.8" y1="702.26" x2="265.8" y2="718.95" stroke="#111111" stroke-width="1.2"/>
<line x1="263.3" y1="702.26" x2="268.3" y2="702.26" stroke="#111111" stroke-width="1.2"/>
<line x1="263.3" y1="718.95" x2="268.3" y2="718.95" stroke="#111111" stroke-width="1.2"/>
<line x1="284.1" y1="753.56" x2="284.1" y2="763.38" stroke="#111111" stroke-width="1.2"/>
<line x1="281.6" y1="753.56" x2="286.6" y2="753.56" stroke="#111111" stroke-width="1.2"/>
<line x1="281.6" y1="763.38" x2="286.6" y2="763.38" stroke="#111111" stroke-width="1.2"/>
<polyline points="64.5,794.81 82.8,793.46 101.1,793.95 119.4,792.48 137.7,786.95 156,774.68 174.3,756.02 192.6,740.31 210.9,701.64 229.2,697.96 247.5,672.55 265.8,710.6 284.1,758.47" fill="none" stroke="#111111" stroke-width="1.6" stroke-linejoin="round"/>
<polygon points="64.5,792.51 66.8,794.81 64.5,797.11 62.2,794.81" fill="#111111"/>
<polygon points="82.8,791.16 85.1,793.46 82.8,795.76 80.5,793.46" fill="#111111"/>
<polygon points="101.1,791.65 103.4,793.95 101.1,796.25 98.8,793.95" fill="#111111"/>
<polygon points="119.4,790.18 121.7,792.48 119.4,794.78 117.1,792.48" fill="#111111"/>
<polygon points="137.7,784.65 140,786.95 137.7,789.25 135.4,786.95" fill="#111111"/>
<polygon points="156,772.38 158.3,774.68 156,776.98 153.7,774.68" fill="#111111"/>
<polygon points="174.3,753.72 176.6,756.02 174.3,758.32 172,756.02" fill="#111111"/>
<polygon points="192.6,738.01 194.9,740.31 192.6,742.61 190.3,740.31" fill="#111111"/>
<polygon points="210.9,699.34 213.2,701.64 210.9,703.94 208.6,701.64" fill="#111111"/>
<polygon points="229.2,695.66 231.5,697.96 229.2,700.26 226.9,697.96" fill="#111111"/>
<polygon points="247.5,670.25 249.8,672.55 247.5,674.85 245.2,672.55" fill="#111111"/>
<polygon points="265.8,708.3 268.1,710.6 265.8,712.9 263.5,710.6" fill="#111111"/>
<polygon points="284.1,756.17 286.4,758.47 284.1,760.77 281.8,758.47" fill="#111111"/>
<line x1="55.2" y1="671.5" x2="55.2" y2="795.9" stroke="#231f20" stroke-width="1.3"/>
<line x1="54.6" y1="795.3" x2="292.9" y2="795.3" stroke="#231f20" stroke-width="1.3"/>
<line x1="280.2" y1="696.3" x2="292.5" y2="696.3" stroke="#93c851" stroke-width="1.3"/>
<circle cx="286.4" cy="696.3" r="2.2" fill="#93c851"/>
<text x="297.8" y="699.2" font-size="8.2" fill="#333" stroke="#333" stroke-width="0.18">BSA</text>
<line x1="280.2" y1="708.2" x2="292.5" y2="708.2" stroke="#d93a2e" stroke-width="1.3"/>
<rect x="284.2" y="706" width="4.4" height="4.4" fill="#d93a2e"/>
<text x="297.8" y="711.1" font-size="8.2" fill="#333" stroke="#333" stroke-width="0.18">EVs</text>
<line x1="280.2" y1="719.9" x2="292.5" y2="719.9" stroke="#f6d294" stroke-width="1.3"/>
<polygon points="286.4,717.55 284.1,721.46 288.7,721.46" fill="#f6d294"/>
<text x="297.8" y="722.8" font-size="8.2" fill="#333" stroke="#333" stroke-width="0.18">Serum</text>
<line x1="280.2" y1="731.6" x2="292.5" y2="731.6" stroke="#5c92d2" stroke-width="1.3"/>
<polygon points="286.4,733.95 284.1,730.04 288.7,730.04" fill="#5c92d2"/>
<text x="297.8" y="734.5" font-size="8.2" fill="#333" stroke="#333" stroke-width="0.18">Tyr</text>
<line x1="280.2" y1="743.4" x2="292.5" y2="743.4" stroke="#111111" stroke-width="1.3"/>
<polygon points="286.4,741.4 288.4,743.4 286.4,745.4 284.4,743.4" fill="#111111"/>
<text x="297.8" y="746.3" font-size="8.2" fill="#333" stroke="#333" stroke-width="0.18">Parasite</text>
<text x="297.8" y="756.4" font-size="8.2" textLength="45" lengthAdjust="spacingAndGlyphs" fill="#333" stroke="#333" stroke-width="0.18">Supernatants</text>
</svg>
</body></html>
